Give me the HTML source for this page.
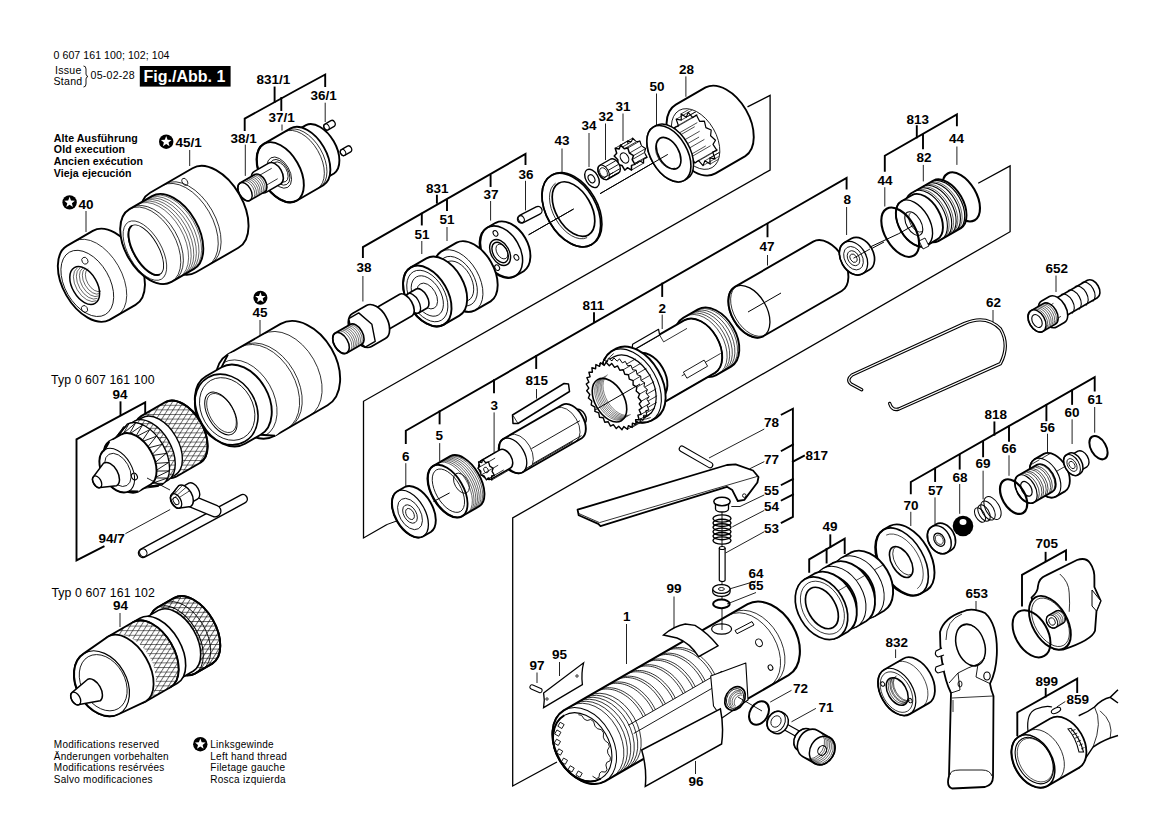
<!DOCTYPE html>
<html><head><meta charset="utf-8"><style>
html,body{margin:0;padding:0;background:#fff;}
svg{display:block;}
.l{font-family:"Liberation Sans",sans-serif;font-weight:bold;font-size:13.5px;fill:#000;}
.r{font-family:"Liberation Sans",sans-serif;font-size:10px;fill:#000;letter-spacing:0.25px;}
.b{font-family:"Liberation Sans",sans-serif;font-weight:bold;font-size:10.6px;fill:#000;letter-spacing:0.1px;}
</style></head><body>
<svg width="1168" height="826" viewBox="0 0 1168 826">
<rect width="1168" height="826" fill="#fff"/>

<path d="M244.7,130.0 L244.7,118.6 L296.6,90.0 L325.2,74.5 L325.2,86.0" fill="none" stroke="#000" stroke-width="1.9" stroke-linejoin="miter" stroke-linecap="square"/>
<path d="M274.6,101.8 L274.6,87.5" fill="none" stroke="#000" stroke-width="1.9" stroke-linejoin="miter" stroke-linecap="square"/>
<path d="M281.3,98.0 L281.3,110.0" fill="none" stroke="#000" stroke-width="1.9" stroke-linejoin="miter" stroke-linecap="square"/>
<path d="M245.3,144.6 L245.3,175.9" fill="none" stroke="#222" stroke-width="1.0" stroke-linejoin="miter" />
<path d="M282.0,124.5 L282.0,130.6" fill="none" stroke="#222" stroke-width="1.0" stroke-linejoin="miter" />
<path d="M325.2,102.7 L325.2,122.0" fill="none" stroke="#222" stroke-width="1.0" stroke-linejoin="miter" />
<path d="M362.9,257.0 L362.9,247.1 L525.5,153.9 L525.5,164.0" fill="none" stroke="#000" stroke-width="1.9" stroke-linejoin="miter" stroke-linecap="square"/>
<path d="M436.9,202.7 L436.9,195.7" fill="none" stroke="#000" stroke-width="1.9" stroke-linejoin="miter" stroke-linecap="square"/>
<path d="M421.8,213.7 L421.8,224.5" fill="none" stroke="#000" stroke-width="1.9" stroke-linejoin="miter" stroke-linecap="square"/>
<path d="M447.0,200.0 L447.0,210.0" fill="none" stroke="#000" stroke-width="1.9" stroke-linejoin="miter" stroke-linecap="square"/>
<path d="M490.6,175.5 L490.6,186.0" fill="none" stroke="#000" stroke-width="1.9" stroke-linejoin="miter" stroke-linecap="square"/>
<path d="M362.9,276.0 L362.9,301.5" fill="none" stroke="#222" stroke-width="1.0" stroke-linejoin="miter" />
<path d="M421.8,241.0 L421.8,254.0" fill="none" stroke="#222" stroke-width="1.0" stroke-linejoin="miter" />
<path d="M447.0,227.0 L447.0,241.0" fill="none" stroke="#222" stroke-width="1.0" stroke-linejoin="miter" />
<path d="M490.6,201.0 L490.6,220.6" fill="none" stroke="#222" stroke-width="1.0" stroke-linejoin="miter" />
<path d="M525.5,180.8 L525.5,210.4" fill="none" stroke="#222" stroke-width="1.0" stroke-linejoin="miter" />
<path d="M145.2,412.7 L145.2,402.3 L76.5,439.3 L76.5,560.4 L103.6,546.6" fill="none" stroke="#000" stroke-width="1.9" stroke-linejoin="miter" stroke-linecap="square"/>
<path d="M120.5,415.0 L120.5,402.3" fill="none" stroke="#000" stroke-width="1.9" stroke-linejoin="miter" stroke-linecap="square"/>
<path d="M125.4,533.7 L170.2,509.5" fill="none" stroke="#222" stroke-width="1.0" stroke-linejoin="miter" />
<path d="M120.0,613.0 L120.0,627.0" fill="none" stroke="#222" stroke-width="1.0" stroke-linejoin="miter" />
<path d="M747.5,106.8 L770.1,95.3 L770.1,170.0 L363.5,401.3 L363.5,538.0 L387.0,524.5" fill="none" stroke="#000" stroke-width="1.3" stroke-linejoin="miter" />
<path d="M978.2,183.3 L1010.1,165.9 L1010.1,231.7 L512.7,518.0 L512.7,786.0 L557.0,762.0" fill="none" stroke="#000" stroke-width="1.3" stroke-linejoin="miter" />
<path d="M405.8,443.1 L405.8,430.8 L846.6,178.0 L846.6,188.6" fill="none" stroke="#000" stroke-width="1.9" stroke-linejoin="miter" stroke-linecap="square"/>
<path d="M594.0,321.8 L594.0,313.3" fill="none" stroke="#000" stroke-width="1.9" stroke-linejoin="miter" stroke-linecap="square"/>
<path d="M662.2,283.6 L662.2,296.0" fill="none" stroke="#000" stroke-width="1.9" stroke-linejoin="miter" stroke-linecap="square"/>
<path d="M767.5,223.9 L767.5,236.3" fill="none" stroke="#000" stroke-width="1.9" stroke-linejoin="miter" stroke-linecap="square"/>
<path d="M536.2,356.0 L536.2,368.0" fill="none" stroke="#000" stroke-width="1.9" stroke-linejoin="miter" stroke-linecap="square"/>
<path d="M494.0,380.2 L494.0,392.2" fill="none" stroke="#000" stroke-width="1.9" stroke-linejoin="miter" stroke-linecap="square"/>
<path d="M439.6,411.4 L439.6,423.4" fill="none" stroke="#000" stroke-width="1.9" stroke-linejoin="miter" stroke-linecap="square"/>
<path d="M846.6,207.0 L846.6,235.0" fill="none" stroke="#222" stroke-width="1.0" stroke-linejoin="miter" />
<path d="M662.2,314.6 L662.2,329.0" fill="none" stroke="#222" stroke-width="1.0" stroke-linejoin="miter" />
<path d="M767.5,255.0 L767.5,265.5" fill="none" stroke="#222" stroke-width="1.0" stroke-linejoin="miter" />
<path d="M536.5,389.0 L536.5,398.6" fill="none" stroke="#222" stroke-width="1.0" stroke-linejoin="miter" />
<path d="M494.1,412.4 L494.1,452.6" fill="none" stroke="#222" stroke-width="1.0" stroke-linejoin="miter" />
<path d="M439.7,443.1 L439.7,461.1" fill="none" stroke="#222" stroke-width="1.0" stroke-linejoin="miter" />
<path d="M405.8,463.2 L405.8,488.7" fill="none" stroke="#222" stroke-width="1.0" stroke-linejoin="miter" />
<path d="M781.7,414.5 L792.9,408.7 L792.9,516.8 L781.7,522.6" fill="none" stroke="#000" stroke-width="1.9" stroke-linejoin="miter" stroke-linecap="square"/>
<path d="M781.7,450.8 L792.9,444.6" fill="none" stroke="#000" stroke-width="1.9" stroke-linejoin="miter" stroke-linecap="square"/>
<path d="M792.9,461.6 L804.0,455.8" fill="none" stroke="#000" stroke-width="1.9" stroke-linejoin="miter" stroke-linecap="square"/>
<path d="M781.7,484.8 L792.9,479.0" fill="none" stroke="#000" stroke-width="1.9" stroke-linejoin="miter" stroke-linecap="square"/>
<path d="M781.7,500.3 L792.9,494.5" fill="none" stroke="#000" stroke-width="1.9" stroke-linejoin="miter" stroke-linecap="square"/>
<path d="M764.3,429.0 L709.0,458.0" fill="none" stroke="#222" stroke-width="1.0" stroke-linejoin="miter" />
<path d="M764.3,461.6 L749.7,468.8" fill="none" stroke="#222" stroke-width="1.0" stroke-linejoin="miter" />
<path d="M764.3,494.9 L740.0,506.5 L731.3,506.5" fill="none" stroke="#222" stroke-width="1.0" stroke-linejoin="miter" />
<path d="M764.3,510.4 L732.3,526.9" fill="none" stroke="#222" stroke-width="1.0" stroke-linejoin="miter" />
<path d="M764.3,531.7 L725.5,553.0" fill="none" stroke="#222" stroke-width="1.0" stroke-linejoin="miter" />
<path d="M910.8,493.3 L910.8,482.0 L1094.7,377.2 L1094.7,390.5" fill="none" stroke="#000" stroke-width="1.9" stroke-linejoin="miter" stroke-linecap="square"/>
<path d="M935.1,468.6 L935.1,481.0" fill="none" stroke="#000" stroke-width="1.9" stroke-linejoin="miter" stroke-linecap="square"/>
<path d="M959.7,454.9 L959.7,468.6" fill="none" stroke="#000" stroke-width="1.9" stroke-linejoin="miter" stroke-linecap="square"/>
<path d="M983.1,441.9 L983.1,456.3" fill="none" stroke="#000" stroke-width="1.9" stroke-linejoin="miter" stroke-linecap="square"/>
<path d="M1009.0,426.5 L1009.0,440.9" fill="none" stroke="#000" stroke-width="1.9" stroke-linejoin="miter" stroke-linecap="square"/>
<path d="M1046.4,404.9 L1046.4,420.3" fill="none" stroke="#000" stroke-width="1.9" stroke-linejoin="miter" stroke-linecap="square"/>
<path d="M1072.1,390.5 L1072.1,403.9" fill="none" stroke="#000" stroke-width="1.9" stroke-linejoin="miter" stroke-linecap="square"/>
<path d="M994.4,434.7 L994.4,422.4" fill="none" stroke="#000" stroke-width="1.9" stroke-linejoin="miter" stroke-linecap="square"/>
<path d="M1094.7,407.0 L1094.7,432.7" fill="none" stroke="#222" stroke-width="1.0" stroke-linejoin="miter" />
<path d="M1072.1,419.3 L1072.1,444.0" fill="none" stroke="#222" stroke-width="1.0" stroke-linejoin="miter" />
<path d="M1047.5,433.7 L1047.5,453.2" fill="none" stroke="#222" stroke-width="1.0" stroke-linejoin="miter" />
<path d="M1009.0,455.3 L1009.0,475.8" fill="none" stroke="#222" stroke-width="1.0" stroke-linejoin="miter" />
<path d="M983.1,470.7 L983.1,499.4" fill="none" stroke="#222" stroke-width="1.0" stroke-linejoin="miter" />
<path d="M959.7,484.0 L959.7,513.8" fill="none" stroke="#222" stroke-width="1.0" stroke-linejoin="miter" />
<path d="M935.0,497.4 L935.0,524.0" fill="none" stroke="#222" stroke-width="1.0" stroke-linejoin="miter" />
<path d="M910.8,511.8 L910.8,526.0" fill="none" stroke="#222" stroke-width="1.0" stroke-linejoin="miter" />
<path d="M884.8,170.7 L884.8,155.8 L956.9,114.5 L956.9,125.2" fill="none" stroke="#000" stroke-width="1.9" stroke-linejoin="miter" stroke-linecap="square"/>
<path d="M916.8,137.4 L916.8,126.2" fill="none" stroke="#000" stroke-width="1.9" stroke-linejoin="miter" stroke-linecap="square"/>
<path d="M923.0,134.9 L923.0,148.4" fill="none" stroke="#000" stroke-width="1.9" stroke-linejoin="miter" stroke-linecap="square"/>
<path d="M956.9,146.5 L956.9,164.9" fill="none" stroke="#222" stroke-width="1.0" stroke-linejoin="miter" />
<path d="M923.3,164.9 L923.3,181.4" fill="none" stroke="#222" stroke-width="1.0" stroke-linejoin="miter" />
<path d="M884.8,187.2 L884.8,206.5" fill="none" stroke="#222" stroke-width="1.0" stroke-linejoin="miter" />
<path d="M809.2,571.8 L809.2,559.4 L844.7,538.7 L844.7,553.1" fill="none" stroke="#000" stroke-width="1.9" stroke-linejoin="miter" stroke-linecap="square"/>
<path d="M826.6,548.9 L826.6,562.5" fill="none" stroke="#000" stroke-width="1.9" stroke-linejoin="miter" stroke-linecap="square"/>
<path d="M830.3,546.9 L830.3,535.3" fill="none" stroke="#000" stroke-width="1.9" stroke-linejoin="miter" stroke-linecap="square"/>
<path d="M1022.0,605.5 L1022.0,574.8 L1066.0,550.4 L1066.0,559.9" fill="none" stroke="#000" stroke-width="1.9" stroke-linejoin="miter" stroke-linecap="square"/>
<path d="M1045.6,560.7 L1045.6,552.8" fill="none" stroke="#000" stroke-width="1.9" stroke-linejoin="miter" stroke-linecap="square"/>
<path d="M1017.3,735.3 L1017.3,712.5 L1077.2,678.7 L1077.2,692.0" fill="none" stroke="#000" stroke-width="1.9" stroke-linejoin="miter" stroke-linecap="square"/>
<path d="M1045.7,696.5 L1045.7,688.9" fill="none" stroke="#000" stroke-width="1.9" stroke-linejoin="miter" stroke-linecap="square"/>
<path d="M1065.3,701.5 L1056.7,707.0" fill="none" stroke="#222" stroke-width="1.0" stroke-linejoin="miter" />
<path d="M685.9,76.4 L685.9,96.8" fill="none" stroke="#222" stroke-width="1.0" stroke-linejoin="miter" />
<path d="M656.5,93.5 L656.5,126.0" fill="none" stroke="#222" stroke-width="1.0" stroke-linejoin="miter" />
<path d="M623.0,113.5 L623.0,141.0" fill="none" stroke="#222" stroke-width="1.0" stroke-linejoin="miter" />
<path d="M605.5,123.5 L605.5,160.0" fill="none" stroke="#222" stroke-width="1.0" stroke-linejoin="miter" />
<path d="M589.0,133.0 L589.0,167.0" fill="none" stroke="#222" stroke-width="1.0" stroke-linejoin="miter" />
<path d="M562.0,148.5 L562.0,172.0" fill="none" stroke="#222" stroke-width="1.0" stroke-linejoin="miter" />
<path d="M993.0,310.0 L993.0,322.0" fill="none" stroke="#222" stroke-width="1.0" stroke-linejoin="miter" />
<path d="M1056.0,275.5 L1056.0,292.0" fill="none" stroke="#222" stroke-width="1.0" stroke-linejoin="miter" />
<path d="M674.0,596.5 L674.0,636.0" fill="none" stroke="#222" stroke-width="1.0" stroke-linejoin="miter" />
<path d="M626.5,624.0 L626.5,664.0" fill="none" stroke="#222" stroke-width="1.0" stroke-linejoin="miter" />
<path d="M559.5,662.0 L559.5,676.0" fill="none" stroke="#222" stroke-width="1.0" stroke-linejoin="miter" />
<path d="M537.0,672.5 L537.0,683.0" fill="none" stroke="#222" stroke-width="1.0" stroke-linejoin="miter" />
<path d="M791.5,690.3 L770.2,702.1" fill="none" stroke="#222" stroke-width="1.0" stroke-linejoin="miter" />
<path d="M815.9,708.4 L791.5,721.8" fill="none" stroke="#222" stroke-width="1.0" stroke-linejoin="miter" />
<path d="M695.5,761.0 L695.5,774.0" fill="none" stroke="#222" stroke-width="1.0" stroke-linejoin="miter" />
<path d="M895.6,649.4 L895.6,658.0" fill="none" stroke="#222" stroke-width="1.0" stroke-linejoin="miter" />
<path d="M976.0,601.0 L976.0,614.0" fill="none" stroke="#222" stroke-width="1.0" stroke-linejoin="miter" />
<path d="M756.0,581.0 L726.0,590.0" fill="none" stroke="#222" stroke-width="1.0" stroke-linejoin="miter" />
<path d="M756.0,592.5 L727.0,604.0" fill="none" stroke="#222" stroke-width="1.0" stroke-linejoin="miter" />
<path d="M86.0,211.0 L86.0,232.0" fill="none" stroke="#222" stroke-width="1.0" stroke-linejoin="miter" />
<path d="M189.7,150.0 L189.7,166.0" fill="none" stroke="#222" stroke-width="1.0" stroke-linejoin="miter" />
<path d="M260.0,320.0 L260.0,340.0" fill="none" stroke="#222" stroke-width="1.0" stroke-linejoin="miter" />
<text class="r" x="53.5" y="58.8" style="font-size:10.6px;letter-spacing:0.05px">0 607 161 100; 102; 104</text>
<text class="r" x="55" y="73.7" style="font-size:10.6px">Issue</text>
<text class="r" x="53.5" y="85.4" style="font-size:10.6px">Stand</text>
<path d="M83.5,66 Q86,66 86,69 L86,74 Q86,76 88,76.5 Q86,77 86,79 L86,84 Q86,87 83.5,87" fill="none" stroke="#000" stroke-width="0.9"/>
<text class="r" x="90.5" y="79.4" style="font-size:10.6px">05-02-28</text>
<rect x="139.8" y="66" width="90.8" height="20.6" fill="#000"/>
<text x="143.5" y="81.6" style="font-family:'Liberation Sans',sans-serif;font-weight:bold;font-size:16px;fill:#fff">Fig./Abb. 1</text>
<text class="b" x="53.8" y="141.7">Alte Ausführung</text>
<text class="b" x="53.8" y="153.3">Old execution</text>
<text class="b" x="53.8" y="164.9">Ancien exécution</text>
<text class="b" x="53.8" y="176.5">Vieja ejecución</text>
<text class="r" x="51" y="384" style="font-size:12.3px;letter-spacing:0.1px">Typ 0 607 161 100</text>
<text class="r" x="51.4" y="597" style="font-size:12.3px;letter-spacing:0.1px">Typ 0 607 161 102</text>
<text class="r" x="53.8" y="747.6">Modifications reserved</text>
<text class="r" x="53.8" y="759.5">Änderungen vorbehalten</text>
<text class="r" x="53.8" y="771.3">Modifications resérvées</text>
<text class="r" x="53.8" y="783.1">Salvo modificaciones</text>
<text class="r" x="210.3" y="747.6">Linksgewinde</text>
<text class="r" x="210.3" y="759.5">Left hand thread</text>
<text class="r" x="210.3" y="771.3">Filetage gauche</text>
<text class="r" x="210.3" y="783.1">Rosca izquierda</text>
<circle cx="200.3" cy="744.2" r="7.2" fill="#000"/><path d="M200.3,738.6 L201.7,742.2 L205.6,742.5 L202.6,745.0 L203.6,748.7 L200.3,746.6 L197.0,748.7 L198.0,745.0 L195.0,742.5 L198.9,742.2Z" fill="#fff"/>
<circle cx="166.2" cy="141.7" r="7.2" fill="#000"/><path d="M166.2,136.1 L167.6,139.7 L171.5,140.0 L168.5,142.5 L169.5,146.2 L166.2,144.1 L162.9,146.2 L163.9,142.5 L160.9,140.0 L164.8,139.7Z" fill="#fff"/>
<circle cx="69.6" cy="202.4" r="7.2" fill="#000"/><path d="M69.6,196.8 L71.0,200.4 L74.9,200.7 L71.9,203.2 L72.9,206.9 L69.6,204.8 L66.3,206.9 L67.3,203.2 L64.3,200.7 L68.2,200.4Z" fill="#fff"/>
<circle cx="260.4" cy="297.8" r="7.0" fill="#000"/><path d="M260.4,292.3 L261.8,295.9 L265.6,296.1 L262.7,298.5 L263.6,302.2 L260.4,300.2 L257.2,302.2 L258.1,298.5 L255.2,296.1 L259.0,295.9Z" fill="#fff"/><defs><pattern id="kn" patternUnits="userSpaceOnUse" width="4.6" height="4.6" patternTransform="rotate(90)"><path d="M0.5,0 L0.5,4.6" stroke="#000" stroke-width="0.6"/></pattern><pattern id="kn2" patternUnits="userSpaceOnUse" width="4.6" height="4.6" patternTransform="rotate(32)"><path d="M0.5,0 L0.5,4.6" stroke="#000" stroke-width="0.6"/></pattern></defs>
<path d="M66.9,245.9 L92.8,230.9 A42.7,25.6 60 0 1 135.5,304.9 L109.5,319.9 A42.7,25.6 60 0 1 66.9,245.9 Z" fill="#fff" stroke="#000" stroke-width="1.9" stroke-linejoin="round"/>
<path d="M74.6,241.4 A42.7,25.6 60 0 1 117.3,315.4" fill="none" stroke="#000" stroke-width="0.8"/>
<ellipse cx="87.3" cy="283.4" rx="36.0" ry="22.3" transform="rotate(60 87.3 283.4)" fill="none" stroke="#000" stroke-width="0.8" />
<ellipse cx="84.7" cy="285.5" rx="20.7" ry="12.4" transform="rotate(60 84.7 285.5)" fill="none" stroke="#000" stroke-width="1.5" />
<path d="M96.4,300.7 A19.0,11.4 60 0 1 77.4,267.8" fill="none" stroke="#000" stroke-width="0.6"/>
<path d="M97.5,298.3 A17.5,10.5 60 0 1 80.0,268.0" fill="none" stroke="#000" stroke-width="0.6"/>
<path d="M98.7,295.9 A16.0,9.6 60 0 1 82.7,268.2" fill="none" stroke="#000" stroke-width="0.6"/>
<path d="M99.8,293.5 A14.5,8.7 60 0 1 85.3,268.4" fill="none" stroke="#000" stroke-width="0.6"/>
<path d="M101.0,291.1 A13.0,7.8 60 0 1 88.0,268.6" fill="none" stroke="#000" stroke-width="0.6"/>
<ellipse cx="84.9" cy="260.7" rx="3.6" ry="2.9" transform="rotate(60 84.9 260.7)" fill="none" stroke="#000" stroke-width="0.8" />
<ellipse cx="84.5" cy="309.0" rx="3.6" ry="2.9" transform="rotate(60 84.5 309.0)" fill="none" stroke="#000" stroke-width="0.8" />
<path d="M150.1,192.7 L192.5,168.2 A45.9,27.5 60 0 1 238.4,247.8 L195.9,272.3 A45.9,27.5 60 0 1 150.1,192.7 Z" fill="#fff" stroke="#000" stroke-width="1.9" stroke-linejoin="round"/>
<path d="M162.2,185.7 A45.9,27.5 60 0 1 208.1,265.3" fill="none" stroke="#000" stroke-width="0.8"/>
<path d="M165.2,184.0 A45.9,27.5 60 0 1 211.1,263.5" fill="none" stroke="#000" stroke-width="0.8"/>
<ellipse cx="184.8" cy="181.8" rx="3.8" ry="2.5" transform="rotate(60 184.8 181.8)" fill="none" stroke="#000" stroke-width="0.8" />
<path d="M129.5,209.1 L152.0,196.1 A42.0,25.2 60 0 1 194.0,268.9 L171.5,281.9 A42.0,25.2 60 0 1 129.5,209.1 Z" fill="#fff" stroke="#000" stroke-width="1.9" stroke-linejoin="round"/>
<ellipse cx="150.5" cy="245.5" rx="42.0" ry="25.2" transform="rotate(60 150.5 245.5)" fill="none" stroke="#000" stroke-width="0.7" />
<path d="M132.1,207.6 A42.0,25.2 60 0 1 174.1,280.4" fill="none" stroke="#000" stroke-width="0.8"/>
<path d="M137.3,204.6 A42.0,25.2 60 0 1 179.3,277.4" fill="none" stroke="#000" stroke-width="0.6"/>
<path d="M139.9,203.1 A42.0,25.2 60 0 1 181.9,275.9" fill="none" stroke="#000" stroke-width="0.6"/>
<path d="M142.5,201.6 A42.0,25.2 60 0 1 184.5,274.4" fill="none" stroke="#000" stroke-width="0.6"/>
<path d="M145.1,200.1 A42.0,25.2 60 0 1 187.1,272.9" fill="none" stroke="#000" stroke-width="0.6"/>
<path d="M147.7,198.6 A42.0,25.2 60 0 1 189.7,271.4" fill="none" stroke="#000" stroke-width="0.6"/>
<path d="M150.3,197.1 A42.0,25.2 60 0 1 192.3,269.9" fill="none" stroke="#000" stroke-width="0.6"/>
<ellipse cx="145.8" cy="250.1" rx="28.1" ry="12.6" transform="rotate(60 145.8 250.1)" fill="none" stroke="#000" stroke-width="0.9" />
<path d="M159.9,274.4 A28.1,12.6 60 0 1 131.8,225.8" fill="none" stroke="#000" stroke-width="1.8"/>
<ellipse cx="144.9" cy="250.6" rx="33.0" ry="16.5" transform="rotate(60 144.9 250.6)" fill="none" stroke="#000" stroke-width="0.7" />
<path d="M293.0,132.6 L306.0,125.1 A28.0,16.8 60 0 1 334.0,173.5 L321.0,181.0 A28.0,16.8 60 0 1 293.0,132.6 Z" fill="#fff" stroke="#000" stroke-width="1.9" stroke-linejoin="round"/>
<path d="M324.9,124.1 L330.9,120.6 A3.3,2.5 60 0 1 334.2,126.4 L328.1,129.9 A3.3,2.5 60 0 1 324.9,124.1 Z" fill="#fff" stroke="#000" stroke-width="1.3" stroke-linejoin="round"/><ellipse cx="326.5" cy="127.0" rx="3.3" ry="2.5" transform="rotate(60 326.5 127.0)" fill="none" stroke="#000" stroke-width="1" />
<path d="M341.4,149.6 L347.4,146.1 A3.3,2.5 60 0 1 350.7,151.9 L344.6,155.4 A3.3,2.5 60 0 1 341.4,149.6 Z" fill="#fff" stroke="#000" stroke-width="1.3" stroke-linejoin="round"/><ellipse cx="343.0" cy="152.5" rx="3.3" ry="2.5" transform="rotate(60 343.0 152.5)" fill="none" stroke="#000" stroke-width="1" />
<path d="M263.8,143.9 L290.6,128.4 A32.8,19.7 60 0 1 323.4,185.2 L296.6,200.7 A32.8,19.7 60 0 1 263.8,143.9 Z" fill="#fff" stroke="#000" stroke-width="1.9" stroke-linejoin="round"/>
<ellipse cx="280.2" cy="172.3" rx="32.8" ry="19.7" transform="rotate(60 280.2 172.3)" fill="none" stroke="#000" stroke-width="1.9" />
<path d="M284.6,131.9 A32.8,19.7 60 0 1 317.4,188.7" fill="none" stroke="#000" stroke-width="0.8"/>
<path d="M287.2,130.4 A32.8,19.7 60 0 1 320.0,187.2" fill="none" stroke="#000" stroke-width="0.8"/>
<ellipse cx="279.3" cy="172.6" rx="17.0" ry="10.2" transform="rotate(60 279.3 172.6)" fill="none" stroke="#000" stroke-width="0.8" />
<ellipse cx="279.8" cy="172.3" rx="14.0" ry="8.4" transform="rotate(60 279.8 172.3)" fill="none" stroke="#000" stroke-width="0.8" />
<ellipse cx="280.2" cy="172.0" rx="11.0" ry="6.6" transform="rotate(60 280.2 172.0)" fill="none" stroke="#000" stroke-width="0.8" />
<path d="M254.0,171.6 L268.7,163.1 A12.0,7.2 60 0 1 280.7,183.9 L266.0,192.4 A12.0,7.2 60 0 1 254.0,171.6 Z" fill="#fff" stroke="#000" stroke-width="1.6" stroke-linejoin="round"/>
<path d="M257.0,176.8 L271.7,168.3" fill="none" stroke="#000" stroke-width="0.8" stroke-linejoin="miter" />
<path d="M263.0,187.2 L277.7,178.7" fill="none" stroke="#000" stroke-width="0.8" stroke-linejoin="miter" />
<path d="M240.0,183.0 L254.7,174.5 A10.0,6.0 60 0 1 264.7,191.9 L250.0,200.4 A10.0,6.0 60 0 1 240.0,183.0 Z" fill="#fff" stroke="#000" stroke-width="1.6" stroke-linejoin="round"/><ellipse cx="245.0" cy="191.7" rx="10.0" ry="6.0" transform="rotate(60 245.0 191.7)" fill="none" stroke="#000" stroke-width="1.4" />
<path d="M242.6,181.5 A10.0,6.0 60 0 1 252.6,198.9" fill="none" stroke="#000" stroke-width="0.6"/>
<path d="M244.3,180.5 A10.0,6.0 60 0 1 254.3,197.9" fill="none" stroke="#000" stroke-width="0.6"/>
<path d="M246.1,179.5 A10.0,6.0 60 0 1 256.1,196.9" fill="none" stroke="#000" stroke-width="0.6"/>
<path d="M247.8,178.5 A10.0,6.0 60 0 1 257.8,195.9" fill="none" stroke="#000" stroke-width="0.6"/>
<path d="M249.5,177.5 A10.0,6.0 60 0 1 259.5,194.9" fill="none" stroke="#000" stroke-width="0.6"/>
<path d="M251.3,176.5 A10.0,6.0 60 0 1 261.3,193.9" fill="none" stroke="#000" stroke-width="0.6"/>
<path d="M253.0,175.5 A10.0,6.0 60 0 1 263.0,192.9" fill="none" stroke="#000" stroke-width="0.6"/>
<path d="M228.0,354.3 L280.6,323.9 A47.0,32.0 60 0 1 327.6,405.3 L275.0,435.7 A47.0,32.0 60 0 1 228.0,354.3 Z" fill="#fff" stroke="#000" stroke-width="1.9" stroke-linejoin="round"/>
<path d="M240.1,347.3 A47.0,32.0 60 0 1 287.1,428.7" fill="none" stroke="#000" stroke-width="0.8"/>
<path d="M242.7,345.8 A47.0,32.0 60 0 1 289.7,427.2" fill="none" stroke="#000" stroke-width="0.8"/>
<path d="M262.6,334.3 A47.0,32.0 60 0 1 309.6,415.7" fill="none" stroke="#000" stroke-width="0.8"/>
<path d="M221.6,367.2 L228.0,354.3 A47.0,32.0 60 0 1 275.0,435.7 L260.6,434.8 A39.0,26.5 60 0 1 221.6,367.2 Z" fill="#fff" stroke="none"/><path d="M221.6,367.2 L228.0,354.3 M260.6,434.8 L275.0,435.7" fill="none" stroke="#000" stroke-width="1.9"/>
<path d="M223.6,362.6 A42.0,28.6 60 0 1 265.6,435.4" fill="none" stroke="#000" stroke-width="0.8"/>
<path d="M206.0,376.2 L221.6,367.2 A39.0,27.3 60 0 1 260.6,434.8 L245.0,443.8 A39.0,27.3 60 0 1 206.0,376.2 Z" fill="#fff" stroke="#000" stroke-width="1.9" stroke-linejoin="round"/>
<ellipse cx="226.4" cy="409.5" rx="37.0" ry="29.6" transform="rotate(60 226.4 409.5)" fill="none" stroke="#000" stroke-width="1.6" />
<ellipse cx="227.2" cy="409.0" rx="33.0" ry="25.7" transform="rotate(60 227.2 409.0)" fill="none" stroke="#000" stroke-width="0.8" />
<ellipse cx="220.9" cy="413.5" rx="23.5" ry="12.9" transform="rotate(60 220.9 413.5)" fill="none" stroke="#000" stroke-width="1.0" />
<ellipse cx="221.5" cy="413.0" rx="21.5" ry="11.8" transform="rotate(60 221.5 413.0)" fill="none" stroke="#000" stroke-width="0.7" />
<path d="M141.1,416.1 L165.3,402.1 A35.0,21.0 60 0 1 200.3,462.7 L176.1,476.7 A35.0,21.0 60 0 1 141.1,416.1 Z" fill="#fff" stroke="none"/><path d="M141.1,416.1 L165.3,402.1 A35.0,21.0 60 0 1 200.3,462.7 L176.1,476.7 A35.0,21.0 60 0 1 141.1,416.1 Z" fill="url(#kn)" stroke="none" opacity="0.9"/><path d="M141.1,416.1 L165.3,402.1 A35.0,21.0 60 0 1 200.3,462.7 L176.1,476.7 A35.0,21.0 60 0 1 141.1,416.1 Z" fill="url(#kn2)" stroke="none" opacity="0.9"/><path d="M141.1,416.1 L165.3,402.1 A35.0,21.0 60 0 1 200.3,462.7 L176.1,476.7 A35.0,21.0 60 0 1 141.1,416.1 Z" fill="none" stroke="#000" stroke-width="1.9"/>
<path d="M165.3,402.1 A35.0,21.0 60 0 1 200.3,462.7" fill="none" stroke="#000" stroke-width="1.9"/>
<path d="M135.1,421.8 L142.1,417.8 A33.0,19.8 60 0 1 175.1,475.0 L168.1,479.0 A33.0,19.8 60 0 1 135.1,421.8 Z" fill="#fff" stroke="#000" stroke-width="1.4" stroke-linejoin="round"/>
<path d="M126.0,426.0 L134.6,421.0 A34.0,20.4 60 0 1 168.6,479.8 L160.0,484.8 A34.0,20.4 60 0 1 126.0,426.0 Z" fill="#fff" stroke="none"/><path d="M126.0,426.0 L134.6,421.0 A34.0,20.4 60 0 1 168.6,479.8 L160.0,484.8 A34.0,20.4 60 0 1 126.0,426.0 Z" fill="url(#kn)" stroke="none" opacity="0.9"/><path d="M126.0,426.0 L134.6,421.0 A34.0,20.4 60 0 1 168.6,479.8 L160.0,484.8 A34.0,20.4 60 0 1 126.0,426.0 Z" fill="url(#kn2)" stroke="none" opacity="0.9"/><path d="M126.0,426.0 L134.6,421.0 A34.0,20.4 60 0 1 168.6,479.8 L160.0,484.8 A34.0,20.4 60 0 1 126.0,426.0 Z" fill="none" stroke="#000" stroke-width="1.4"/>
<path d="M118.1,436.3 L127.2,424.1 A35.0,21.0 60 0 1 162.2,484.7 L147.1,486.5 A29.0,17.4 60 0 1 118.1,436.3 Z" fill="#fff" stroke="#000" stroke-width="1.3" stroke-linejoin="round"/>
<path d="M148.5,486.9 L163.8,483.4 L152.2,483.3" fill="none" stroke="#000" stroke-width="0.9" stroke-linejoin="miter" /><path d="M152.2,483.3 L167.3,478.1 L154.5,477.9" fill="none" stroke="#000" stroke-width="0.9" stroke-linejoin="miter" /><path d="M154.5,477.9 L169.0,470.9 L155.1,471.1" fill="none" stroke="#000" stroke-width="0.9" stroke-linejoin="miter" /><path d="M155.1,471.1 L168.6,462.5 L153.9,463.5" fill="none" stroke="#000" stroke-width="0.9" stroke-linejoin="miter" /><path d="M153.9,463.5 L166.2,453.4 L151.0,455.7" fill="none" stroke="#000" stroke-width="0.9" stroke-linejoin="miter" /><path d="M151.0,455.7 L162.0,444.4 L146.7,448.3" fill="none" stroke="#000" stroke-width="0.9" stroke-linejoin="miter" /><path d="M146.7,448.3 L156.4,436.3 L141.4,441.9" fill="none" stroke="#000" stroke-width="0.9" stroke-linejoin="miter" /><path d="M141.4,441.9 L149.7,429.7 L135.4,437.1" fill="none" stroke="#000" stroke-width="0.9" stroke-linejoin="miter" /><path d="M135.4,437.1 L142.5,425.1 L129.3,434.2" fill="none" stroke="#000" stroke-width="0.9" stroke-linejoin="miter" /><path d="M129.3,434.2 L135.5,423.0 L123.5,433.4" fill="none" stroke="#000" stroke-width="0.9" stroke-linejoin="miter" /><path d="M123.5,433.4 L129.1,423.4 L118.5,434.9" fill="none" stroke="#000" stroke-width="0.9" stroke-linejoin="miter" /><path d="M118.5,434.9 L123.9,426.4 L114.7,438.5" fill="none" stroke="#000" stroke-width="0.9" stroke-linejoin="miter" /><path d="M114.7,438.5 L120.4,431.7 L112.4,443.9" fill="none" stroke="#000" stroke-width="0.9" stroke-linejoin="miter" /><path d="M143.5,488.4 L158.6,486.4 L148.5,486.9" fill="none" stroke="#000" stroke-width="0.9" stroke-linejoin="miter" />
<path d="M109.4,441.3 L121.6,434.3 A29.0,17.4 60 0 1 150.6,484.5 L138.4,491.5 A29.0,17.4 60 0 1 109.4,441.3 Z" fill="#fff" stroke="#000" stroke-width="1.9" stroke-linejoin="round"/>
<path d="M105.0,449.6 L109.4,441.3 A29.0,18.0 60 0 1 138.4,491.5 L129.0,491.2 A24.0,14.9 60 0 1 105.0,449.6 Z" fill="#fff" stroke="none"/><path d="M105.0,449.6 L109.4,441.3 M129.0,491.2 L138.4,491.5" fill="none" stroke="#000" stroke-width="1.9"/>
<path d="M129.0,491.2 A24.0,14.9 60 0 1 105.0,449.6" fill="none" stroke="#000" stroke-width="1.9"/>
<ellipse cx="117.0" cy="470.4" rx="24.0" ry="14.9" transform="rotate(60 117.0 470.4)" fill="none" stroke="#000" stroke-width="1.0" />
<ellipse cx="117.9" cy="469.9" rx="18.0" ry="11.2" transform="rotate(60 117.9 469.9)" fill="none" stroke="#000" stroke-width="0.8" />
<ellipse cx="134.4" cy="476.5" rx="3.5" ry="2.8" transform="rotate(60 134.4 476.5)" fill="none" stroke="#000" stroke-width="1.1" />
<path d="M93.8,476.3 L103.6,463.1 A13.0,7.8 60 0 1 116.6,485.7 L100.3,487.5 A6.5,3.9 60 0 1 93.8,476.3 Z" fill="#fff" stroke="#000" stroke-width="1.5" stroke-linejoin="round"/>
<ellipse cx="97.1" cy="481.9" rx="6.5" ry="3.9" transform="rotate(60 97.1 481.9)" fill="none" stroke="#000" stroke-width="1.3" />
<path d="M147.0,478.0 L170.0,490.0" fill="none" stroke="#000" stroke-width="0.9" stroke-linejoin="miter" />
<path d="M143.0,553.0 L242.8,499.0" stroke="#000" stroke-width="10.4" stroke-linecap="round"/><path d="M143.0,553.0 L242.8,499.0" stroke="#fff" stroke-width="7.6" stroke-linecap="round"/>
<ellipse cx="143.3" cy="552.8" rx="4.0" ry="3.6" transform="rotate(60 143.3 552.8)" fill="none" stroke="#000" stroke-width="1.1" />
<path d="M186.0,499.0 L215.0,511.0" stroke="#000" stroke-width="13.0" stroke-linecap="round"/><path d="M186.0,499.0 L215.0,511.0" stroke="#fff" stroke-width="10.4" stroke-linecap="round"/>
<path d="M178.4,489.2 L188.8,483.2 A9.0,5.4 60 0 1 197.8,498.8 L187.4,504.8 A9.0,5.4 60 0 1 178.4,489.2 Z" fill="#fff" stroke="#000" stroke-width="1.4" stroke-linejoin="round"/>
<path d="M172.0,494.1 L178.7,485.6 A12.0,7.2 60 0 1 190.7,506.4 L180.0,507.9 A8.0,4.8 60 0 1 172.0,494.1 Z" fill="#fff" stroke="#000" stroke-width="1.5" stroke-linejoin="round"/>
<path d="M179.4,497.4 L189.8,490.7" fill="none" stroke="#000" stroke-width="0.7" stroke-linejoin="miter" />
<path d="M177.1,495.1 L186.3,487.1" fill="none" stroke="#000" stroke-width="0.7" stroke-linejoin="miter" />
<path d="M174.6,493.8 L182.6,485.2" fill="none" stroke="#000" stroke-width="0.7" stroke-linejoin="miter" />
<path d="M172.4,493.9 L179.2,485.3" fill="none" stroke="#000" stroke-width="0.7" stroke-linejoin="miter" />
<path d="M170.8,495.3 L176.9,487.5" fill="none" stroke="#000" stroke-width="0.7" stroke-linejoin="miter" />
<path d="M170.2,497.8 L176.0,491.2" fill="none" stroke="#000" stroke-width="0.7" stroke-linejoin="miter" />
<path d="M170.7,500.9 L176.7,495.8" fill="none" stroke="#000" stroke-width="0.7" stroke-linejoin="miter" />
<ellipse cx="176.0" cy="501.0" rx="8.0" ry="4.8" transform="rotate(60 176.0 501.0)" fill="none" stroke="#000" stroke-width="1.3" />
<ellipse cx="176.0" cy="501.0" rx="4.0" ry="2.4" transform="rotate(60 176.0 501.0)" fill="none" stroke="#000" stroke-width="0.9" />
<path d="M156.9,607.8 L174.3,597.8 A38.0,22.8 60 0 1 212.3,663.6 L194.9,673.6 A38.0,22.8 60 0 1 156.9,607.8 Z" fill="#fff" stroke="#000" stroke-width="1.9" stroke-linejoin="round"/><ellipse cx="175.9" cy="640.7" rx="38.0" ry="22.8" transform="rotate(60 175.9 640.7)" fill="none" stroke="#000" stroke-width="1" />
<path d="M164.7,603.3 L174.3,597.8 A38.0,22.8 60 0 1 212.3,663.6 L202.7,669.1 A38.0,22.8 60 0 1 164.7,603.3 Z" fill="url(#kn)" stroke="none"/><path d="M164.7,603.3 L174.3,597.8 A38.0,22.8 60 0 1 212.3,663.6 L202.7,669.1 A38.0,22.8 60 0 1 164.7,603.3 Z" fill="url(#kn2)" stroke="none"/>
<path d="M164.7,603.3 A38.0,22.8 60 0 1 202.7,669.1" fill="none" stroke="#000" stroke-width="0.9"/>
<path d="M156.9,607.8 L174.3,597.8 A38.0,22.8 60 0 1 212.3,663.6 L194.9,673.6 A38.0,22.8 60 0 1 156.9,607.8 Z" fill="none" stroke="#000" stroke-width="1.9" stroke-linejoin="round"/>
<path d="M141.1,620.4 L158.4,610.4 A35.0,21.0 60 0 1 193.4,671.0 L176.1,681.0 A35.0,21.0 60 0 1 141.1,620.4 Z" fill="#fff" stroke="#000" stroke-width="1.6" stroke-linejoin="round"/>
<path d="M132.9,622.2 L139.9,618.2 A37.5,22.5 60 0 1 177.4,683.2 L170.4,687.2 A37.5,22.5 60 0 1 132.9,622.2 Z" fill="#fff" stroke="#000" stroke-width="1.6" stroke-linejoin="round"/>
<path d="M107.8,636.7 L132.9,622.2 A37.5,22.5 60 0 1 170.4,687.2 L145.3,701.7 A37.5,22.5 60 0 1 107.8,636.7 Z" fill="#fff" stroke="none"/><path d="M107.8,636.7 L132.9,622.2 A37.5,22.5 60 0 1 170.4,687.2 L145.3,701.7 A37.5,22.5 60 0 1 107.8,636.7 Z" fill="url(#kn)" stroke="none" opacity="0.9"/><path d="M107.8,636.7 L132.9,622.2 A37.5,22.5 60 0 1 170.4,687.2 L145.3,701.7 A37.5,22.5 60 0 1 107.8,636.7 Z" fill="url(#kn2)" stroke="none" opacity="0.9"/><path d="M107.8,636.7 L132.9,622.2 A37.5,22.5 60 0 1 170.4,687.2 L145.3,701.7 A37.5,22.5 60 0 1 107.8,636.7 Z" fill="none" stroke="#000" stroke-width="1.9"/>
<path d="M132.9,622.2 A37.5,22.5 60 0 1 170.4,687.2" fill="none" stroke="#000" stroke-width="1.4"/>
<path d="M84.0,653.4 L107.8,636.7 A37.5,26.2 60 0 1 145.3,701.7 L119.0,714.0 A35.0,24.5 60 0 1 84.0,653.4 Z" fill="#fff" stroke="none"/><path d="M84.0,653.4 L107.8,636.7 M119.0,714.0 L145.3,701.7" fill="none" stroke="#000" stroke-width="1.9"/>
<path d="M119.0,714.0 A35.0,25.2 60 0 1 84.0,653.4" fill="none" stroke="#000" stroke-width="1.9"/>
<path d="M107.8,636.7 A37.5,22.5 60 0 1 145.3,701.7" fill="none" stroke="#000" stroke-width="1.8"/>
<ellipse cx="101.5" cy="683.7" rx="35.0" ry="25.2" transform="rotate(60 101.5 683.7)" fill="none" stroke="#000" stroke-width="1.2" />
<ellipse cx="103.2" cy="682.7" rx="30.0" ry="21.6" transform="rotate(60 103.2 682.7)" fill="none" stroke="#000" stroke-width="0.8" />
<path d="M72.2,692.4 L87.8,679.2 A12.5,7.5 60 0 1 100.2,700.8 L79.2,704.6 A7.0,4.2 60 0 1 72.2,692.4 Z" fill="#fff" stroke="#000" stroke-width="1.5" stroke-linejoin="round"/>
<ellipse cx="75.7" cy="698.5" rx="7.0" ry="4.2" transform="rotate(60 75.7 698.5)" fill="none" stroke="#000" stroke-width="1.3" /><path d="M682.0,448.8 L710.0,465.0" stroke="#000" stroke-width="6.6" stroke-linecap="round"/><path d="M682.0,448.8 L710.0,465.0" stroke="#fff" stroke-width="4.4" stroke-linecap="round"/>
<path d="M577.6,509.7 L726.9,465.0 L735.6,464.4 L753.0,470.5 L758.5,477.0 L757.4,482.5 L744.3,499.9 L737.8,501.0 L732.3,490.1 L726.9,486.8 L600.5,526.1 L598.3,523.9 L578.7,515.2Z" fill="#fff" stroke="#000" stroke-width="1.8" stroke-linejoin="round"/>
<path d="M599.5,522.6 L757.0,476.5" fill="none" stroke="#000" stroke-width="0.8" stroke-linejoin="miter" />
<path d="M578.7,513.5 L599.5,522.6" fill="none" stroke="#000" stroke-width="0.8" stroke-linejoin="miter" />
<circle cx="744.3" cy="495.6" r="1.8" fill="none" stroke="#000" stroke-width="0.9"/>
<path d="M722.0,508.0 L722.0,600.0" fill="none" stroke="#000" stroke-width="0.9" stroke-linejoin="miter" />
<path d="M715.5,502 L715.5,509 A6.5,3 0 0 0 728.5,509 L728.5,502" fill="#fff" stroke="#000" stroke-width="1.3"/>
<ellipse cx="722" cy="501.5" rx="8.2" ry="4.2" fill="#fff" stroke="#000" stroke-width="1.5"/>
<ellipse cx="722" cy="518.5" rx="9" ry="3.6" fill="none" stroke="#000" stroke-width="1.4"/>
<ellipse cx="722" cy="522.9" rx="9" ry="3.6" fill="none" stroke="#000" stroke-width="1.4"/>
<ellipse cx="722" cy="527.3" rx="9" ry="3.6" fill="none" stroke="#000" stroke-width="1.4"/>
<ellipse cx="722" cy="531.7" rx="9" ry="3.6" fill="none" stroke="#000" stroke-width="1.4"/>
<ellipse cx="722" cy="536.1" rx="9" ry="3.6" fill="none" stroke="#000" stroke-width="1.4"/>
<ellipse cx="722" cy="540.5" rx="9" ry="3.6" fill="none" stroke="#000" stroke-width="1.4"/>
<path d="M719.3,548 L719.3,580 A2.9,1.5 0 0 0 725.1,580 L725.1,548" fill="#fff" stroke="#000" stroke-width="1.2"/>
<ellipse cx="722.2" cy="548" rx="2.9" ry="1.5" fill="#fff" stroke="#000" stroke-width="1.1"/>
<path d="M712.7,589 L712.7,592 A8.7,4.4 0 0 0 730.1,592 L730.1,589" fill="#fff" stroke="#000" stroke-width="1.2"/>
<ellipse cx="721.4" cy="589" rx="8.7" ry="4.4" fill="#fff" stroke="#000" stroke-width="1.3"/>
<ellipse cx="721.4" cy="589" rx="3" ry="1.5" fill="#fff" stroke="#000" stroke-width="0.9"/>
<ellipse cx="721.4" cy="603.9" rx="8.3" ry="4.3" fill="none" stroke="#000" stroke-width="2"/>
<path d="M563.8,710.3 L747.6,604.2 A41.0,28.7 60 0 1 788.6,675.2 L604.8,781.3 A41.0,28.7 60 0 1 563.8,710.3 Z" fill="#fff" stroke="#000" stroke-width="2.1" stroke-linejoin="round"/>
<ellipse cx="584.3" cy="745.8" rx="41.0" ry="28.7" transform="rotate(60 584.3 745.8)" fill="none" stroke="#000" stroke-width="1.0" />
<ellipse cx="582.5" cy="747.0" rx="36.5" ry="26.6" transform="rotate(60 582.5 747.0)" fill="none" stroke="#000" stroke-width="1.1" />
<path d="M600.8,778.6 A36.5,26.6 60 0 1 564.2,715.4" fill="none" stroke="#000" stroke-width="1.8"/>
<path d="M571.6,705.8 A41.0,28.7 60 0 1 612.6,776.8" fill="none" stroke="#000" stroke-width="0.8"/>
<path d="M575.1,703.8 A41.0,28.7 60 0 1 616.1,774.8" fill="none" stroke="#000" stroke-width="0.8"/>
<path d="M578.5,701.8 A41.0,28.7 60 0 1 619.5,772.8" fill="none" stroke="#000" stroke-width="0.8"/>
<path d="M582.0,699.8 A41.0,28.7 60 0 1 623.0,770.8" fill="none" stroke="#000" stroke-width="0.8"/>
<path d="M585.5,697.8 A41.0,28.7 60 0 1 626.5,768.8" fill="none" stroke="#000" stroke-width="0.8"/>
<path d="M588.9,695.8 A41.0,28.7 60 0 1 629.9,766.8" fill="none" stroke="#000" stroke-width="0.8"/>
<path d="M595.8,691.8 L597.3,691.0 L598.8,690.4 L600.4,689.9 L602.1,689.5 L603.8,689.2 L605.5,689.0 L607.3,689.0 L609.1,689.1 L610.9,689.4 L612.7,689.7 L614.6,690.2 L616.5,690.8 L618.3,691.6 L620.2,692.4 L622.0,693.4 L623.8,694.5 L625.6,695.7 L627.4,696.9 L629.1,698.3 L630.8,699.8 L632.5,701.4 L634.0,703.1 L635.6,704.9 L637.0,706.7 L638.4,708.6 L639.7,710.5 L641.0,712.6 L642.1,714.6 L643.2,716.7" fill="none" stroke="#000" stroke-width="0.8" stroke-linejoin="miter" />
<path d="M598.1,690.5 L599.6,689.7 L601.1,689.1 L602.7,688.6 L604.3,688.2 L606.0,687.9 L607.8,687.7 L609.5,687.7 L611.3,687.8 L613.2,688.1 L615.0,688.4 L616.9,688.9 L618.7,689.5 L620.6,690.3 L622.4,691.1 L624.3,692.1 L626.1,693.2 L627.9,694.4 L629.7,695.6 L631.4,697.0 L633.1,698.5 L634.7,700.1 L636.3,701.8 L637.8,703.6 L639.3,705.4 L640.7,707.3 L642.0,709.2 L643.2,711.3 L644.4,713.3 L645.5,715.4" fill="none" stroke="#000" stroke-width="0.8" stroke-linejoin="miter" />
<path d="M605.8,686.0 L607.3,685.3 L608.8,684.6 L610.4,684.1 L612.0,683.7 L613.7,683.4 L615.5,683.3 L617.2,683.3 L619.0,683.4 L620.9,683.6 L622.7,684.0 L624.6,684.5 L626.4,685.1 L628.3,685.8 L630.1,686.7 L632.0,687.6 L633.8,688.7 L635.6,689.9 L637.4,691.2 L639.1,692.6 L640.8,694.1 L642.4,695.7 L644.0,697.4 L645.5,699.1 L647.0,700.9 L648.4,702.8 L649.7,704.8 L650.9,706.8 L652.1,708.9 L653.2,711.0" fill="none" stroke="#000" stroke-width="0.8" stroke-linejoin="miter" />
<path d="M608.1,684.7 L609.5,684.0 L611.1,683.3 L612.6,682.8 L614.3,682.4 L616.0,682.1 L617.7,682.0 L619.5,682.0 L621.3,682.1 L623.1,682.3 L625.0,682.7 L626.8,683.2 L628.7,683.8 L630.5,684.5 L632.4,685.4 L634.2,686.3 L636.0,687.4 L637.8,688.6 L639.6,689.9 L641.3,691.3 L643.0,692.8 L644.7,694.4 L646.2,696.1 L647.8,697.8 L649.2,699.6 L650.6,701.5 L651.9,703.5 L653.2,705.5 L654.3,707.6 L655.4,709.7" fill="none" stroke="#000" stroke-width="0.8" stroke-linejoin="miter" />
<path d="M615.8,680.3 L617.2,679.5 L618.8,678.9 L620.4,678.4 L622.0,678.0 L623.7,677.7 L625.4,677.5 L627.2,677.5 L629.0,677.6 L630.8,677.9 L632.7,678.2 L634.5,678.7 L636.4,679.3 L638.2,680.1 L640.1,680.9 L641.9,681.9 L643.8,683.0 L645.6,684.2 L647.3,685.4 L649.0,686.8 L650.7,688.3 L652.4,689.9 L654.0,691.6 L655.5,693.4 L656.9,695.2 L658.3,697.1 L659.7,699.0 L660.9,701.1 L662.1,703.1 L663.1,705.2" fill="none" stroke="#000" stroke-width="0.8" stroke-linejoin="miter" />
<path d="M618.0,679.0 L619.5,678.2 L621.0,677.6 L622.6,677.1 L624.3,676.7 L625.9,676.4 L627.7,676.2 L629.4,676.2 L631.2,676.3 L633.1,676.6 L634.9,676.9 L636.8,677.4 L638.6,678.0 L640.5,678.8 L642.3,679.6 L644.2,680.6 L646.0,681.7 L647.8,682.9 L649.6,684.1 L651.3,685.5 L653.0,687.0 L654.6,688.6 L656.2,690.3 L657.7,692.1 L659.2,693.9 L660.6,695.8 L661.9,697.7 L663.1,699.8 L664.3,701.8 L665.4,703.9" fill="none" stroke="#000" stroke-width="0.8" stroke-linejoin="miter" />
<path d="M625.7,674.5 L627.2,673.8 L628.7,673.1 L630.3,672.6 L632.0,672.2 L633.7,671.9 L635.4,671.8 L637.2,671.8 L639.0,671.9 L640.8,672.1 L642.6,672.5 L644.5,673.0 L646.3,673.6 L648.2,674.3 L650.1,675.2 L651.9,676.1 L653.7,677.2 L655.5,678.4 L657.3,679.7 L659.0,681.1 L660.7,682.6 L662.3,684.2 L663.9,685.9 L665.4,687.6 L666.9,689.4 L668.3,691.3 L669.6,693.3 L670.9,695.3 L672.0,697.4 L673.1,699.5" fill="none" stroke="#000" stroke-width="0.8" stroke-linejoin="miter" />
<path d="M628.0,673.2 L629.4,672.5 L631.0,671.8 L632.6,671.3 L634.2,670.9 L635.9,670.6 L637.6,670.5 L639.4,670.5 L641.2,670.6 L643.0,670.8 L644.9,671.2 L646.7,671.7 L648.6,672.3 L650.5,673.0 L652.3,673.9 L654.1,674.8 L656.0,675.9 L657.8,677.1 L659.5,678.4 L661.3,679.8 L662.9,681.3 L664.6,682.9 L666.2,684.6 L667.7,686.3 L669.2,688.1 L670.5,690.0 L671.9,692.0 L673.1,694.0 L674.3,696.1 L675.3,698.2" fill="none" stroke="#000" stroke-width="0.8" stroke-linejoin="miter" />
<path d="M635.7,668.8 L637.1,668.0 L638.7,667.4 L640.3,666.9 L641.9,666.5 L643.6,666.2 L645.3,666.0 L647.1,666.0 L648.9,666.1 L650.7,666.4 L652.6,666.7 L654.4,667.2 L656.3,667.8 L658.2,668.6 L660.0,669.4 L661.9,670.4 L663.7,671.5 L665.5,672.7 L667.2,673.9 L669.0,675.3 L670.7,676.8 L672.3,678.4 L673.9,680.1 L675.4,681.9 L676.9,683.7 L678.3,685.6 L679.6,687.5 L680.8,689.6 L682.0,691.6 L683.0,693.7" fill="none" stroke="#000" stroke-width="0.8" stroke-linejoin="miter" />
<path d="M637.9,667.5 L639.4,666.7 L640.9,666.1 L642.5,665.6 L644.2,665.2 L645.9,664.9 L647.6,664.7 L649.4,664.7 L651.2,664.8 L653.0,665.1 L654.8,665.4 L656.7,665.9 L658.5,666.5 L660.4,667.3 L662.3,668.1 L664.1,669.1 L665.9,670.2 L667.7,671.4 L669.5,672.6 L671.2,674.0 L672.9,675.5 L674.5,677.1 L676.1,678.8 L677.7,680.6 L679.1,682.4 L680.5,684.3 L681.8,686.2 L683.1,688.3 L684.2,690.3 L685.3,692.4" fill="none" stroke="#000" stroke-width="0.8" stroke-linejoin="miter" />
<path d="M645.6,663.0 L647.1,662.3 L648.6,661.6 L650.2,661.1 L651.9,660.7 L653.6,660.4 L655.3,660.3 L657.1,660.3 L658.9,660.4 L660.7,660.6 L662.5,661.0 L664.4,661.5 L666.3,662.1 L668.1,662.8 L670.0,663.7 L671.8,664.6 L673.6,665.7 L675.4,666.9 L677.2,668.2 L678.9,669.6 L680.6,671.1 L682.2,672.7 L683.8,674.4 L685.4,676.1 L686.8,677.9 L688.2,679.8 L689.5,681.8 L690.8,683.8 L691.9,685.9 L693.0,688.0" fill="none" stroke="#000" stroke-width="0.8" stroke-linejoin="miter" />
<path d="M647.9,661.7 L649.4,661.0 L650.9,660.3 L652.5,659.8 L654.1,659.4 L655.8,659.1 L657.6,659.0 L659.3,659.0 L661.1,659.1 L663.0,659.3 L664.8,659.7 L666.6,660.2 L668.5,660.8 L670.4,661.5 L672.2,662.4 L674.1,663.3 L675.9,664.4 L677.7,665.6 L679.4,666.9 L681.2,668.3 L682.9,669.8 L684.5,671.4 L686.1,673.1 L687.6,674.8 L689.1,676.6 L690.5,678.5 L691.8,680.5 L693.0,682.5 L694.2,684.6 L695.3,686.7" fill="none" stroke="#000" stroke-width="0.8" stroke-linejoin="miter" />
<path d="M655.6,657.3 L657.1,656.5 L658.6,655.9 L660.2,655.4 L661.8,655.0 L663.5,654.7 L665.3,654.5 L667.0,654.5 L668.8,654.6 L670.7,654.9 L672.5,655.2 L674.4,655.7 L676.2,656.3 L678.1,657.1 L679.9,657.9 L681.8,658.9 L683.6,660.0 L685.4,661.2 L687.2,662.4 L688.9,663.8 L690.6,665.3 L692.2,666.9 L693.8,668.6 L695.3,670.4 L696.8,672.2 L698.2,674.1 L699.5,676.0 L700.7,678.1 L701.9,680.1 L703.0,682.2" fill="none" stroke="#000" stroke-width="0.8" stroke-linejoin="miter" />
<path d="M657.9,656.0 L659.3,655.2 L660.9,654.6 L662.4,654.1 L664.1,653.7 L665.8,653.4 L667.5,653.2 L669.3,653.2 L671.1,653.3 L672.9,653.6 L674.8,653.9 L676.6,654.4 L678.5,655.0 L680.3,655.8 L682.2,656.6 L684.0,657.6 L685.8,658.7 L687.6,659.9 L689.4,661.1 L691.1,662.5 L692.8,664.0 L694.5,665.6 L696.0,667.3 L697.6,669.1 L699.0,670.9 L700.4,672.8 L701.7,674.7 L703.0,676.8 L704.1,678.8 L705.2,680.9" fill="none" stroke="#000" stroke-width="0.8" stroke-linejoin="miter" />
<path d="M665.6,651.5 L667.0,650.8 L668.6,650.1 L670.2,649.6 L671.8,649.2 L673.5,648.9 L675.2,648.8 L677.0,648.8 L678.8,648.9 L680.6,649.1 L682.5,649.5 L684.3,650.0 L686.2,650.6 L688.0,651.3 L689.9,652.2 L691.7,653.1 L693.6,654.2 L695.3,655.4 L697.1,656.7 L698.8,658.1 L700.5,659.6 L702.2,661.2 L703.8,662.9 L705.3,664.6 L706.7,666.4 L708.1,668.3 L709.4,670.3 L710.7,672.3 L711.8,674.4 L712.9,676.5" fill="none" stroke="#000" stroke-width="0.8" stroke-linejoin="miter" />
<path d="M667.8,650.2 L669.3,649.5 L670.8,648.8 L672.4,648.3 L674.0,647.9 L675.7,647.6 L677.5,647.5 L679.2,647.5 L681.0,647.6 L682.9,647.8 L684.7,648.2 L686.6,648.7 L688.4,649.3 L690.3,650.0 L692.1,650.9 L694.0,651.8 L695.8,652.9 L697.6,654.1 L699.4,655.4 L701.1,656.8 L702.8,658.3 L704.4,659.9 L706.0,661.6 L707.5,663.3 L709.0,665.1 L710.4,667.0 L711.7,669.0 L712.9,671.0 L714.1,673.1 L715.2,675.2" fill="none" stroke="#000" stroke-width="0.8" stroke-linejoin="miter" />
<path d="M628.5,725.2 L722.0,671.2" fill="none" stroke="#000" stroke-width="0.9" stroke-linejoin="miter" />
<path d="M722.0,671.2 L727.4,693.6" fill="none" stroke="#000" stroke-width="0.9" stroke-linejoin="miter" />
<path d="M633.7,733.5 L723.8,681.5" fill="none" stroke="#000" stroke-width="0.9" stroke-linejoin="miter" />
<path d="M710.7,676.0 L745.8,663.0 L748.0,700.0 L722.0,718.0 L713.5,706.0Z" fill="#fff" stroke="#000" stroke-width="1.1" stroke-linejoin="round"/>
<ellipse cx="735.0" cy="698.5" rx="12.5" ry="9.4" transform="rotate(120 735.0 698.5)" fill="none" stroke="#000" stroke-width="1.7" />
<ellipse cx="735.0" cy="698.5" rx="10.5" ry="7.9" transform="rotate(120 735.0 698.5)" fill="none" stroke="#000" stroke-width="0.8" />
<path d="M731.3,707.3 A9.5,7.1 120 0 1 740.8,690.9" fill="none" stroke="#000" stroke-width="0.6"/>
<path d="M732.8,707.1 A8.5,6.4 120 0 1 741.3,692.3" fill="none" stroke="#000" stroke-width="0.6"/>
<path d="M734.4,706.8 A7.5,5.6 120 0 1 741.9,693.8" fill="none" stroke="#000" stroke-width="0.6"/>
<path d="M735.9,706.5 A6.5,4.9 120 0 1 742.4,695.3" fill="none" stroke="#000" stroke-width="0.6"/>
<path d="M738.0,697.0 L762.0,711.0" fill="none" stroke="#000" stroke-width="0.9" stroke-linejoin="miter" />
<path d="M728.3,615.3 A41.0,28.7 60 0 1 769.3,686.3" fill="none" stroke="#000" stroke-width="0.8"/>
<path d="M732.7,612.8 A41.0,28.7 60 0 1 773.7,683.8" fill="none" stroke="#000" stroke-width="0.8"/>
<path d="M735.0,630.5 L752.0,621.6 L754.0,625.0 L737.0,633.7Z" fill="#fff" stroke="#000" stroke-width="1" stroke-linejoin="round"/>
<ellipse cx="759.0" cy="642.8" rx="4.0" ry="3.2" transform="rotate(60 759.0 642.8)" fill="none" stroke="#000" stroke-width="1" />
<ellipse cx="770.5" cy="667.6" rx="2.8" ry="2.2" transform="rotate(60 770.5 667.6)" fill="none" stroke="#000" stroke-width="1" />
<ellipse cx="721.6" cy="629" rx="10" ry="5.2" fill="#fff" stroke="#000" stroke-width="1.2"/>
<path d="M722.0,608.0 L722.0,630.0" fill="none" stroke="#000" stroke-width="0.9" stroke-linejoin="miter" />
<rect x="558.7" y="723.1" width="4.6" height="4.6" fill="none" stroke="#000" stroke-width="0.8" transform="rotate(30 561.0 725.4)"/>
<rect x="555.5" y="730.8" width="4.6" height="4.6" fill="none" stroke="#000" stroke-width="0.8" transform="rotate(30 557.8 733.1)"/>
<rect x="555.1" y="740.0" width="4.6" height="4.6" fill="none" stroke="#000" stroke-width="0.8" transform="rotate(30 557.4 742.3)"/>
<rect x="557.3" y="749.7" width="4.6" height="4.6" fill="none" stroke="#000" stroke-width="0.8" transform="rotate(30 559.6 752.0)"/>
<rect x="562.1" y="758.9" width="4.6" height="4.6" fill="none" stroke="#000" stroke-width="0.8" transform="rotate(30 564.4 761.2)"/>
<rect x="568.8" y="766.6" width="4.6" height="4.6" fill="none" stroke="#000" stroke-width="0.8" transform="rotate(30 571.1 768.9)"/>
<rect x="576.8" y="771.8" width="4.6" height="4.6" fill="none" stroke="#000" stroke-width="0.8" transform="rotate(30 579.1 774.1)"/>
<path d="M578.4,714.7 L581.5,715.3 L584.4,719.3 L587.2,720.5 L590.7,719.5 L593.6,721.6 L595.0,726.2 L597.4,728.7 L601.4,729.7 L603.5,732.8 L603.3,737.2 L604.7,740.3 L608.4,743.2 L609.4,746.8 L607.5,750.1 L607.8,753.3 L610.4,757.4 L610.1,760.8 L606.8,762.4 L605.9,765.0 L607.0,769.7 L605.4,772.1 L601.5,771.7 L599.6,773.3 L598.9,777.5 L596.3,778.6 L592.5,776.2" fill="none" stroke="#000" stroke-width="0.9" stroke-linejoin="miter" />
<path d="M663.5,635 Q674,626 685.3,624 L695,625.3 Q708,633 718,645.8 L698.6,656.7 Q690,643 677,638 Z" fill="#fff" stroke="#000" stroke-width="1.4"/>
<path d="M641.7,750 L720.4,708.8 Q724,726 721.6,744 L645.3,786.3 Q647,768 641.7,750 Z" fill="#fff" stroke="#000" stroke-width="1.5"/>
<path d="M543.6,693 L583.6,662.8 Q581,673 582.4,684.6 L543.6,707.6 Q545,700 543.6,693 Z" fill="#fff" stroke="#000" stroke-width="1.3"/>
<circle cx="547" cy="699" r="1.2" fill="none" stroke="#000" stroke-width="0.8"/><circle cx="577" cy="676" r="1.2" fill="none" stroke="#000" stroke-width="0.8"/>
<path d="M532.0,687.0 L540.0,690.5" stroke="#000" stroke-width="5.2" stroke-linecap="round"/><path d="M532.0,687.0 L540.0,690.5" stroke="#fff" stroke-width="3.2" stroke-linecap="round"/>
<ellipse cx="759.0" cy="713.0" rx="12.5" ry="9.0" transform="rotate(120 759.0 713.0)" fill="none" stroke="#000" stroke-width="2" />
<path d="M782.0,725.0 L800.0,735.0" stroke="#000" stroke-width="7.4" stroke-linecap="round"/><path d="M782.0,725.0 L800.0,735.0" stroke="#fff" stroke-width="5.2" stroke-linecap="round"/>
<path d="M781.5,712.0 L785.0,714.0 A11.0,8.8 120 0 1 774.0,733.0 L770.5,731.0 A11.0,8.8 120 0 1 781.5,712.0 Z" fill="#fff" stroke="#000" stroke-width="1.5" stroke-linejoin="round"/><ellipse cx="776.0" cy="721.5" rx="11.0" ry="8.8" transform="rotate(120 776.0 721.5)" fill="none" stroke="#000" stroke-width="1" />
<ellipse cx="776.0" cy="721.5" rx="6.0" ry="4.8" transform="rotate(120 776.0 721.5)" fill="none" stroke="#000" stroke-width="0.8" />
<path d="M810.0,729.6 L816.1,733.1 A12.0,9.6 120 0 1 804.1,753.9 L798.0,750.4 A12.0,9.6 120 0 1 810.0,729.6 Z" fill="#fff" stroke="#000" stroke-width="1.5" stroke-linejoin="round"/><ellipse cx="804.0" cy="740.0" rx="12.0" ry="9.6" transform="rotate(120 804.0 740.0)" fill="none" stroke="#000" stroke-width="1" />
<path d="M811.7,730.6 A12.0,9.6 120 0 1 799.7,751.4" fill="none" stroke="#000" stroke-width="0.6"/>
<path d="M813.5,731.6 A12.0,9.6 120 0 1 801.5,752.4" fill="none" stroke="#000" stroke-width="0.6"/>
<path d="M817.6,730.5 L829.7,737.5 A15.0,12.0 120 0 1 814.7,763.5 L802.6,756.5 A15.0,12.0 120 0 1 817.6,730.5 Z" fill="#fff" stroke="#000" stroke-width="1.6" stroke-linejoin="round"/>
<path d="M819.3,731.5 A15.0,12.0 120 0 1 804.3,757.5" fill="none" stroke="#000" stroke-width="0.6"/>
<path d="M821.0,732.5 A15.0,12.0 120 0 1 806.0,758.5" fill="none" stroke="#000" stroke-width="0.6"/>
<path d="M822.8,733.5 A15.0,12.0 120 0 1 807.8,759.5" fill="none" stroke="#000" stroke-width="0.6"/>
<path d="M824.5,734.5 A15.0,12.0 120 0 1 809.5,760.5" fill="none" stroke="#000" stroke-width="0.6"/>
<path d="M826.2,735.5 A15.0,12.0 120 0 1 811.2,761.5" fill="none" stroke="#000" stroke-width="0.6"/>
<path d="M828.0,736.5 A15.0,12.0 120 0 1 813.0,762.5" fill="none" stroke="#000" stroke-width="0.6"/>
<ellipse cx="822.2" cy="750.5" rx="15.0" ry="12.0" transform="rotate(120 822.2 750.5)" fill="none" stroke="#000" stroke-width="1.5" />
<ellipse cx="822.2" cy="750.5" rx="5.0" ry="4.2" transform="rotate(120 822.2 750.5)" fill="none" stroke="#000" stroke-width="1.1" /><path d="M528.6,234.8 L573.6,209.0" fill="none" stroke="#000" stroke-width="1" stroke-linejoin="miter" />
<path d="M600.0,193.7 L667.8,154.4" fill="none" stroke="#000" stroke-width="1" stroke-linejoin="miter" />
<path d="M433.7,501.4 L449.6,492.9" fill="none" stroke="#000" stroke-width="1" stroke-linejoin="miter" />
<path d="M387.0,524.5 L404.0,518.3" fill="none" stroke="#000" stroke-width="1" stroke-linejoin="miter" />
<path d="M675.8,104.6 L705.6,87.4 A39.7,24.6 60 0 1 745.3,156.1 L715.5,173.4 A39.7,24.6 60 0 1 675.8,104.6 Z" fill="#fff" stroke="#000" stroke-width="1.9" stroke-linejoin="round"/>
<ellipse cx="695.6" cy="139.0" rx="33.0" ry="20.5" transform="rotate(60 695.6 139.0)" fill="none" stroke="#000" stroke-width="0.8" />
<path d="M710.1,164.1 L709.9,157.9 L715.0,158.8 L712.7,152.1 L716.9,150.4 L713.0,144.4 L715.5,140.3 L710.6,135.8 L711.2,130.0 L705.9,127.6 L704.4,121.1 L699.6,121.3 L696.4,114.9 L692.8,117.6 L688.2,112.4 L686.3,117.2 L681.1,113.9 L681.3,120.1 L676.2,119.2 L678.5,125.9 L674.3,127.6 L678.2,133.6 L675.7,137.7 L680.6,142.2 L680.0,148.0 L685.3,150.4 L686.8,156.9 L691.6,156.7 L694.8,163.1 L698.4,160.4 L703.0,165.6 L704.9,160.8Z" fill="#fff" stroke="#000" stroke-width="1.2" stroke-linejoin="round"/>
<clipPath id="cp28"><ellipse cx="695.6" cy="139.0" rx="32.5" ry="20.1" transform="rotate(60 695.6 139.0)"/></clipPath>
<g clip-path="url(#cp28)"><path d="M710.1,164.1 L729.2,153.1" fill="none" stroke="#000" stroke-width="0.7" stroke-linejoin="miter" /><path d="M709.9,157.9 L728.9,146.9" fill="none" stroke="#000" stroke-width="0.7" stroke-linejoin="miter" /><path d="M686.3,117.2 L705.4,106.2" fill="none" stroke="#000" stroke-width="0.7" stroke-linejoin="miter" /><path d="M681.1,113.9 L700.2,102.9" fill="none" stroke="#000" stroke-width="0.7" stroke-linejoin="miter" /><path d="M681.3,120.1 L700.4,109.1" fill="none" stroke="#000" stroke-width="0.7" stroke-linejoin="miter" /><path d="M676.2,119.2 L695.3,108.2" fill="none" stroke="#000" stroke-width="0.7" stroke-linejoin="miter" /><path d="M678.5,125.9 L697.5,114.9" fill="none" stroke="#000" stroke-width="0.7" stroke-linejoin="miter" /><path d="M674.3,127.6 L693.4,116.6" fill="none" stroke="#000" stroke-width="0.7" stroke-linejoin="miter" /><path d="M678.2,133.6 L697.3,122.6" fill="none" stroke="#000" stroke-width="0.7" stroke-linejoin="miter" /><path d="M675.7,137.7 L694.7,126.7" fill="none" stroke="#000" stroke-width="0.7" stroke-linejoin="miter" /><path d="M680.6,142.2 L699.7,131.2" fill="none" stroke="#000" stroke-width="0.7" stroke-linejoin="miter" /><path d="M680.0,148.0 L699.1,137.0" fill="none" stroke="#000" stroke-width="0.7" stroke-linejoin="miter" /><path d="M685.3,150.4 L704.4,139.4" fill="none" stroke="#000" stroke-width="0.7" stroke-linejoin="miter" /><path d="M686.8,156.9 L705.8,145.9" fill="none" stroke="#000" stroke-width="0.7" stroke-linejoin="miter" /><path d="M691.6,156.7 L710.6,145.7" fill="none" stroke="#000" stroke-width="0.7" stroke-linejoin="miter" /><path d="M694.8,163.1 L713.9,152.1" fill="none" stroke="#000" stroke-width="0.7" stroke-linejoin="miter" /><path d="M698.4,160.4 L717.5,149.4" fill="none" stroke="#000" stroke-width="0.7" stroke-linejoin="miter" /><path d="M703.0,165.6 L722.1,154.6" fill="none" stroke="#000" stroke-width="0.7" stroke-linejoin="miter" /><path d="M704.9,160.8 L723.9,149.8" fill="none" stroke="#000" stroke-width="0.7" stroke-linejoin="miter" /></g>
<path d="M653.5,127.0 L656.1,125.5 A30.8,18.2 60 0 1 686.9,178.9 L684.3,180.4 A30.8,18.2 60 0 1 653.5,127.0 Z" fill="#fff" stroke="#000" stroke-width="1.5" stroke-linejoin="round"/>
<ellipse cx="668.9" cy="153.7" rx="30.8" ry="18.2" transform="rotate(60 668.9 153.7)" fill="#fff" stroke="#000" stroke-width="1.6" />
<ellipse cx="668.6" cy="153.2" rx="17.3" ry="10.2" transform="rotate(60 668.6 153.2)" fill="none" stroke="#000" stroke-width="1.6" />
<path d="M674.9,168.1 A16.0,9.4 60 0 1 658.9,140.3" fill="none" stroke="#000" stroke-width="0.8"/>
<path d="M667.8,154.4 L600.0,193.7" fill="none" stroke="#000" stroke-width="1" stroke-linejoin="miter" />
<path d="M643.6,163.1 L643.6,158.4 L647.1,157.4 L644.4,152.6 L645.6,148.6 L641.5,146.1 L639.9,141.0 L636.4,141.8 L632.7,138.1 L631.4,141.9 L627.4,141.2 L628.8,146.2 L626.3,148.9 L629.9,152.8 L630.1,157.6 L634.1,158.5 L636.9,163.2 L639.5,160.7Z" fill="#fff" stroke="#000" stroke-width="1.2" stroke-linejoin="round"/>
<path d="M619.2,148.9 L631.4,141.9 A10.5,6.8 60 0 1 641.9,160.1 L629.8,167.1 A10.5,6.8 60 0 1 619.2,148.9 Z" fill="#fff" stroke="#000" stroke-width="0" stroke-linejoin="round"/>
<path d="M631.5,170.1 L643.6,163.1" fill="none" stroke="#000" stroke-width="0.8" stroke-linejoin="miter" />
<path d="M631.5,165.4 L643.6,158.4" fill="none" stroke="#000" stroke-width="0.8" stroke-linejoin="miter" />
<path d="M634.9,164.4 L647.1,157.4" fill="none" stroke="#000" stroke-width="0.8" stroke-linejoin="miter" />
<path d="M632.2,159.6 L644.4,152.6" fill="none" stroke="#000" stroke-width="0.8" stroke-linejoin="miter" />
<path d="M633.5,155.6 L645.6,148.6" fill="none" stroke="#000" stroke-width="0.8" stroke-linejoin="miter" />
<path d="M629.4,153.1 L641.5,146.1" fill="none" stroke="#000" stroke-width="0.8" stroke-linejoin="miter" />
<path d="M627.8,148.0 L639.9,141.0" fill="none" stroke="#000" stroke-width="0.8" stroke-linejoin="miter" />
<path d="M624.3,148.8 L636.4,141.8" fill="none" stroke="#000" stroke-width="0.8" stroke-linejoin="miter" />
<path d="M620.6,145.1 L632.7,138.1" fill="none" stroke="#000" stroke-width="0.8" stroke-linejoin="miter" />
<path d="M619.2,148.9 L631.4,141.9" fill="none" stroke="#000" stroke-width="0.8" stroke-linejoin="miter" />
<path d="M615.2,148.2 L627.4,141.2" fill="none" stroke="#000" stroke-width="0.8" stroke-linejoin="miter" />
<path d="M627.4,167.7 L639.5,160.7" fill="none" stroke="#000" stroke-width="0.8" stroke-linejoin="miter" />
<path d="M631.5,170.1 L631.5,165.4 L634.9,164.4 L632.2,159.6 L633.5,155.6 L629.4,153.1 L627.8,148.0 L624.3,148.8 L620.6,145.1 L619.2,148.9 L615.2,148.2 L616.7,153.2 L614.2,155.9 L617.8,159.8 L618.0,164.6 L622.0,165.5 L624.8,170.2 L627.4,167.7Z" fill="#fff" stroke="#000" stroke-width="1.5" stroke-linejoin="round"/>
<ellipse cx="624.5" cy="158.0" rx="5.5" ry="3.8" transform="rotate(60 624.5 158.0)" fill="none" stroke="#000" stroke-width="1.1" />
<path d="M599.5,165.5 L610.8,159.0 A8.0,5.0 60 0 1 618.8,172.8 L607.5,179.3 A8.0,5.0 60 0 1 599.5,165.5 Z" fill="#fff" stroke="#000" stroke-width="1.4" stroke-linejoin="round"/><ellipse cx="603.5" cy="172.4" rx="8.0" ry="5.0" transform="rotate(60 603.5 172.4)" fill="none" stroke="#000" stroke-width="1" />
<ellipse cx="603.5" cy="172.4" rx="5.0" ry="3.5" transform="rotate(60 603.5 172.4)" fill="none" stroke="#000" stroke-width="0.8" />
<path d="M602.6,178.6 L613.0,172.6" fill="none" stroke="#000" stroke-width="0.9" stroke-linejoin="miter" />
<path d="M606.1,179.8 L616.4,173.8" fill="none" stroke="#000" stroke-width="0.9" stroke-linejoin="miter" />
<path d="M608.6,178.3 L619.0,172.3" fill="none" stroke="#000" stroke-width="0.9" stroke-linejoin="miter" />
<path d="M609.4,174.8 L619.7,168.8" fill="none" stroke="#000" stroke-width="0.9" stroke-linejoin="miter" />
<path d="M608.1,170.4 L618.5,164.4" fill="none" stroke="#000" stroke-width="0.9" stroke-linejoin="miter" />
<path d="M605.2,166.8 L615.6,160.8" fill="none" stroke="#000" stroke-width="0.9" stroke-linejoin="miter" />
<ellipse cx="592.0" cy="178.4" rx="10.0" ry="6.2" transform="rotate(60 592.0 178.4)" fill="#fff" stroke="#000" stroke-width="1.4" />
<ellipse cx="591.5" cy="178.8" rx="4.3" ry="3.0" transform="rotate(60 591.5 178.8)" fill="none" stroke="#000" stroke-width="1.1" />
<path d="M551.3,175.4 L553.5,174.2 A40.0,24.8 60 0 1 593.5,243.4 L591.3,244.7 A40.0,24.8 60 0 1 551.3,175.4 Z" fill="none" stroke="#000" stroke-width="1.6" stroke-linejoin="round"/>
<ellipse cx="571.3" cy="210.1" rx="40.0" ry="24.8" transform="rotate(60 571.3 210.1)" fill="none" stroke="#000" stroke-width="1.7" />
<ellipse cx="573.5" cy="209.1" rx="29.8" ry="17.6" transform="rotate(60 573.5 209.1)" fill="none" stroke="#000" stroke-width="1.7" />
<path d="M587.1,237.6 A31.5,18.6 60 0 1 555.6,183.1" fill="none" stroke="#000" stroke-width="0.8"/>
<path d="M528.6,234.8 L573.6,209.0" fill="none" stroke="#000" stroke-width="1" stroke-linejoin="miter" />
<path d="M521.5,219.0 L538.0,210.5" stroke="#000" stroke-width="9.4" stroke-linecap="round"/><path d="M521.5,219.0 L538.0,210.5" stroke="#fff" stroke-width="6.8" stroke-linecap="round"/>
<ellipse cx="521.3" cy="219.1" rx="3.5" ry="2.8" transform="rotate(60 521.3 219.1)" fill="none" stroke="#000" stroke-width="1" />
<path d="M487.0,227.8 L495.7,222.8 A28.0,19.0 60 0 1 523.7,271.2 L515.0,276.2 A28.0,19.0 60 0 1 487.0,227.8 Z" fill="#fff" stroke="#000" stroke-width="1.9" stroke-linejoin="round"/>
<ellipse cx="501.0" cy="252.0" rx="28.0" ry="19.0" transform="rotate(60 501.0 252.0)" fill="none" stroke="#000" stroke-width="1.5" />
<ellipse cx="500.1" cy="252.5" rx="14.0" ry="9.0" transform="rotate(60 500.1 252.5)" fill="none" stroke="#000" stroke-width="1.4" />
<ellipse cx="500.1" cy="252.5" rx="11.0" ry="7.0" transform="rotate(60 500.1 252.5)" fill="none" stroke="#000" stroke-width="1.4" />
<ellipse cx="501.9" cy="251.5" rx="8.0" ry="5.1" transform="rotate(60 501.9 251.5)" fill="none" stroke="#000" stroke-width="0.8" />
<ellipse cx="516.4" cy="257.4" rx="3.0" ry="2.2" transform="rotate(60 516.4 257.4)" fill="none" stroke="#000" stroke-width="1" />
<ellipse cx="497.2" cy="267.6" rx="3.0" ry="2.2" transform="rotate(60 497.2 267.6)" fill="none" stroke="#000" stroke-width="1" />
<ellipse cx="495.5" cy="233.4" rx="3.0" ry="2.2" transform="rotate(60 495.5 233.4)" fill="none" stroke="#000" stroke-width="1" />
<path d="M441.0,251.6 L456.6,242.6 A34.0,21.1 60 0 1 490.6,301.4 L475.0,310.4 A34.0,21.1 60 0 1 441.0,251.6 Z" fill="#fff" stroke="#000" stroke-width="1.9" stroke-linejoin="round"/>
<ellipse cx="458.0" cy="281.0" rx="34.0" ry="21.1" transform="rotate(60 458.0 281.0)" fill="none" stroke="#000" stroke-width="0.8" />
<ellipse cx="457.6" cy="281.2" rx="27.0" ry="16.7" transform="rotate(60 457.6 281.2)" fill="none" stroke="#000" stroke-width="0.8" />
<ellipse cx="457.6" cy="281.2" rx="22.0" ry="13.6" transform="rotate(60 457.6 281.2)" fill="none" stroke="#000" stroke-width="0.8" />
<path d="M410.8,267.4 L426.4,258.4 A33.0,20.5 60 0 1 459.4,315.6 L443.8,324.6 A33.0,20.5 60 0 1 410.8,267.4 Z" fill="#fff" stroke="#000" stroke-width="1.9" stroke-linejoin="round"/>
<ellipse cx="427.3" cy="296.0" rx="33.0" ry="20.5" transform="rotate(60 427.3 296.0)" fill="none" stroke="#000" stroke-width="1.9" />
<ellipse cx="427.3" cy="296.0" rx="28.0" ry="17.4" transform="rotate(60 427.3 296.0)" fill="none" stroke="#000" stroke-width="0.8" />
<ellipse cx="427.3" cy="296.0" rx="22.0" ry="13.6" transform="rotate(60 427.3 296.0)" fill="none" stroke="#000" stroke-width="0.8" />
<ellipse cx="427.3" cy="296.0" rx="14.0" ry="8.7" transform="rotate(60 427.3 296.0)" fill="none" stroke="#000" stroke-width="0.8" />
<path d="M407.5,294.0 L416.2,289.0 A11.0,6.1 60 0 1 427.2,308.0 L418.5,313.0 A11.0,6.1 60 0 1 407.5,294.0 Z" fill="#fff" stroke="#000" stroke-width="1.6" stroke-linejoin="round"/><ellipse cx="413.0" cy="303.5" rx="11.0" ry="6.1" transform="rotate(60 413.0 303.5)" fill="none" stroke="#000" stroke-width="1.3" />
<path d="M373.8,309.2 L399.7,294.2 A12.5,6.9 60 0 1 412.2,315.8 L386.2,330.8 A12.5,6.9 60 0 1 373.8,309.2 Z" fill="#fff" stroke="#000" stroke-width="1.6" stroke-linejoin="round"/>
<path d="M352.5,313.5 L366.4,305.5 A19.0,11.4 60 0 1 385.4,338.5 L371.5,346.5 A19.0,11.4 60 0 1 352.5,313.5 Z" fill="#fff" stroke="#000" stroke-width="1.7" stroke-linejoin="round"/>
<path d="M375.2,341.4 L371.9,324.3 L358.7,312.9 L348.8,318.6 L352.1,335.7 L365.3,347.1Z" fill="#fff" stroke="#000" stroke-width="1.4" stroke-linejoin="round"/>
<path d="M335.2,333.0 L350.0,324.5 A11.5,6.9 60 0 1 361.5,344.5 L346.8,353.0 A11.5,6.9 60 0 1 335.2,333.0 Z" fill="#fff" stroke="#000" stroke-width="1.6" stroke-linejoin="round"/><ellipse cx="341.0" cy="343.0" rx="11.5" ry="6.9" transform="rotate(60 341.0 343.0)" fill="none" stroke="#000" stroke-width="1.5" />
<path d="M337.8,331.5 A11.5,6.9 60 0 1 349.3,351.5" fill="none" stroke="#000" stroke-width="0.55"/>
<path d="M339.6,330.5 A11.5,6.9 60 0 1 351.1,350.5" fill="none" stroke="#000" stroke-width="0.55"/>
<path d="M341.3,329.5 A11.5,6.9 60 0 1 352.8,349.5" fill="none" stroke="#000" stroke-width="0.55"/>
<path d="M343.0,328.5 A11.5,6.9 60 0 1 354.5,348.5" fill="none" stroke="#000" stroke-width="0.55"/>
<path d="M344.8,327.5 A11.5,6.9 60 0 1 356.3,347.5" fill="none" stroke="#000" stroke-width="0.55"/>
<path d="M346.5,326.5 A11.5,6.9 60 0 1 358.0,346.5" fill="none" stroke="#000" stroke-width="0.55"/>
<path d="M348.2,325.5 A11.5,6.9 60 0 1 359.7,345.5" fill="none" stroke="#000" stroke-width="0.55"/>
<path d="M683.2,317.9 L698.0,309.4 A33.0,21.4 60 0 1 731.0,366.6 L716.2,375.1 A33.0,21.4 60 0 1 683.2,317.9 Z" fill="#fff" stroke="#000" stroke-width="1.9" stroke-linejoin="round"/>
<path d="M685.8,316.4 A33.0,21.4 60 0 1 718.8,373.6" fill="none" stroke="#000" stroke-width="0.7"/>
<path d="M688.4,314.9 A33.0,21.4 60 0 1 721.4,372.1" fill="none" stroke="#000" stroke-width="0.7"/>
<path d="M691.0,313.4 A33.0,21.4 60 0 1 724.0,370.6" fill="none" stroke="#000" stroke-width="0.7"/>
<path d="M693.6,311.9 A33.0,21.4 60 0 1 726.6,369.1" fill="none" stroke="#000" stroke-width="0.7"/>
<path d="M696.2,310.4 A33.0,21.4 60 0 1 729.2,367.6" fill="none" stroke="#000" stroke-width="0.7"/>
<path d="M633.4,349.6 L684.5,320.1 A30.5,19.8 60 0 1 715.0,372.9 L663.9,402.4 A30.5,19.8 60 0 1 633.4,349.6 Z" fill="#fff" stroke="#000" stroke-width="1.9" stroke-linejoin="round"/>
<path d="M684.5,320.1 A30.5,19.8 60 0 1 715.0,372.9" fill="none" stroke="#000" stroke-width="1.2"/>
<path d="M672.5,397.3 L711.5,374.8" fill="none" stroke="#000" stroke-width="0.8" stroke-linejoin="miter" />
<path d="M681.7,375.9 L720.7,353.4" fill="none" stroke="#000" stroke-width="0.8" stroke-linejoin="miter" />
<path d="M631.9,351.0 L659.6,335.0 L658.6,329.3 L632.6,344.3Z" fill="#fff" stroke="#000" stroke-width="1.2" stroke-linejoin="round"/>
<path d="M659.6,335.0 L663.6,341.9 L687.0,328.4" fill="none" stroke="#000" stroke-width="0.8" stroke-linejoin="miter" />
<path d="M683.4,372.1 L704.1,360.1 L707.6,366.2 L686.9,378.2Z" fill="#fff" stroke="#000" stroke-width="0.9" stroke-linejoin="round"/>
<path d="M624.0,361.3 L636.1,354.3 A25.0,16.2 60 0 1 661.1,397.7 L649.0,404.7 A25.0,16.2 60 0 1 624.0,361.3 Z" fill="#fff" stroke="#000" stroke-width="1.9" stroke-linejoin="round"/>
<path d="M611.3,351.4 L616.5,348.4 A40.0,26.0 60 0 1 656.5,417.6 L651.3,420.6 A40.0,26.0 60 0 1 611.3,351.4 Z" fill="#fff" stroke="#000" stroke-width="1.9" stroke-linejoin="round"/><ellipse cx="631.3" cy="386.0" rx="40.0" ry="26.0" transform="rotate(60 631.3 386.0)" fill="none" stroke="#000" stroke-width="1.1" />
<path d="M650.7,417.5 A37.0,24.1 60 0 1 613.7,353.5" fill="none" stroke="#000" stroke-width="0.8"/>
<path d="M603.9,362.6 L614.3,356.6 A34.0,22.4 60 0 1 648.3,415.4 L637.9,421.4 A34.0,22.4 60 0 1 603.9,362.6 Z" fill="#fff" stroke="#000" stroke-width="1.2" stroke-linejoin="round"/>
<path d="M622.3,421.3 L631.9,415.8" fill="none" stroke="#000" stroke-width="0.8" stroke-linejoin="miter" />
<path d="M628.1,422.8 L637.6,417.3" fill="none" stroke="#000" stroke-width="0.8" stroke-linejoin="miter" />
<path d="M633.6,422.8 L643.1,417.3" fill="none" stroke="#000" stroke-width="0.8" stroke-linejoin="miter" />
<path d="M638.5,421.1 L648.0,415.6" fill="none" stroke="#000" stroke-width="0.8" stroke-linejoin="miter" />
<path d="M642.5,418.0 L652.0,412.5" fill="none" stroke="#000" stroke-width="0.8" stroke-linejoin="miter" />
<path d="M645.4,413.4 L654.9,407.9" fill="none" stroke="#000" stroke-width="0.8" stroke-linejoin="miter" />
<path d="M647.2,407.8 L656.7,402.3" fill="none" stroke="#000" stroke-width="0.8" stroke-linejoin="miter" />
<path d="M647.6,401.3 L657.1,395.8" fill="none" stroke="#000" stroke-width="0.8" stroke-linejoin="miter" />
<path d="M646.7,394.3 L656.2,388.8" fill="none" stroke="#000" stroke-width="0.8" stroke-linejoin="miter" />
<path d="M644.6,387.2 L654.1,381.7" fill="none" stroke="#000" stroke-width="0.8" stroke-linejoin="miter" />
<path d="M641.2,380.3 L650.8,374.8" fill="none" stroke="#000" stroke-width="0.8" stroke-linejoin="miter" />
<path d="M636.9,373.9 L646.4,368.4" fill="none" stroke="#000" stroke-width="0.8" stroke-linejoin="miter" />
<path d="M631.8,368.5 L641.3,363.0" fill="none" stroke="#000" stroke-width="0.8" stroke-linejoin="miter" />
<path d="M626.2,364.3 L635.7,358.8" fill="none" stroke="#000" stroke-width="0.8" stroke-linejoin="miter" />
<path d="M639.9,422.9 L640.2,418.8 L643.9,419.7 L643.4,415.3 L646.9,415.3 L645.7,410.7 L648.9,409.8 L646.9,405.3 L649.6,403.5 L647.0,399.4 L649.1,396.7 L646.0,393.0 L647.4,389.6 L644.0,386.6 L644.6,382.7 L640.9,380.4 L640.8,376.1 L637.1,374.7 L636.2,370.2 L632.6,369.8 L631.0,365.3 L627.6,365.8 L625.3,361.4 L622.3,362.9 L619.5,358.9 L617.1,361.2 L613.8,357.8 L612.0,360.9 L608.4,358.2 L607.4,361.9 L603.6,360.1 L603.4,364.2 L599.7,363.3 L600.2,367.7 L596.6,367.7 L597.9,372.3 L594.7,373.2 L596.7,377.7 L594.0,379.5 L596.6,383.6 L594.5,386.3 L597.6,390.0 L596.2,393.4 L599.6,396.4 L598.9,400.3 L602.6,402.6 L602.7,406.9 L606.5,408.3 L607.4,412.8 L611.0,413.2 L612.6,417.7 L616.0,417.2 L618.3,421.6 L621.2,420.1 L624.1,424.1 L626.5,421.8 L629.8,425.2 L631.6,422.1 L635.2,424.8 L636.2,421.1Z" fill="#fff" stroke="#000" stroke-width="1.0" stroke-linejoin="round"/>
<path d="M632.1,427.4 L639.9,422.9" fill="none" stroke="#000" stroke-width="0.8" stroke-linejoin="miter" />
<path d="M636.1,424.2 L643.9,419.7" fill="none" stroke="#000" stroke-width="0.8" stroke-linejoin="miter" />
<path d="M639.1,419.8 L646.9,415.3" fill="none" stroke="#000" stroke-width="0.8" stroke-linejoin="miter" />
<path d="M641.1,414.3 L648.9,409.8" fill="none" stroke="#000" stroke-width="0.8" stroke-linejoin="miter" />
<path d="M641.8,408.0 L649.6,403.5" fill="none" stroke="#000" stroke-width="0.8" stroke-linejoin="miter" />
<path d="M641.3,401.2 L649.1,396.7" fill="none" stroke="#000" stroke-width="0.8" stroke-linejoin="miter" />
<path d="M639.6,394.1 L647.4,389.6" fill="none" stroke="#000" stroke-width="0.8" stroke-linejoin="miter" />
<path d="M636.8,387.2 L644.6,382.7" fill="none" stroke="#000" stroke-width="0.8" stroke-linejoin="miter" />
<path d="M633.1,380.6 L640.8,376.1" fill="none" stroke="#000" stroke-width="0.8" stroke-linejoin="miter" />
<path d="M628.4,374.7 L636.2,370.2" fill="none" stroke="#000" stroke-width="0.8" stroke-linejoin="miter" />
<path d="M623.2,369.8 L631.0,365.3" fill="none" stroke="#000" stroke-width="0.8" stroke-linejoin="miter" />
<path d="M627.4,429.3 L635.2,424.8" fill="none" stroke="#000" stroke-width="0.8" stroke-linejoin="miter" />
<path d="M632.1,427.4 L632.4,423.3 L636.1,424.2 L635.6,419.8 L639.1,419.8 L637.9,415.2 L641.1,414.3 L639.1,409.8 L641.8,408.0 L639.2,403.9 L641.3,401.2 L638.2,397.5 L639.6,394.1 L636.2,391.1 L636.8,387.2 L633.1,384.9 L633.1,380.6 L629.3,379.2 L628.4,374.7 L624.8,374.3 L623.2,369.8 L619.8,370.3 L617.5,365.9 L614.6,367.4 L611.7,363.4 L609.3,365.7 L606.0,362.3 L604.2,365.4 L600.6,362.7 L599.6,366.4 L595.9,364.6 L595.6,368.7 L591.9,367.8 L592.4,372.2 L588.9,372.2 L590.1,376.8 L586.9,377.7 L588.9,382.2 L586.2,384.0 L588.8,388.1 L586.7,390.8 L589.8,394.5 L588.4,397.9 L591.8,400.9 L591.2,404.8 L594.9,407.1 L594.9,411.4 L598.7,412.8 L599.6,417.3 L603.2,417.7 L604.8,422.2 L608.2,421.7 L610.5,426.1 L613.4,424.6 L616.3,428.6 L618.7,426.3 L622.0,429.7 L623.8,426.6 L627.4,429.3 L628.4,425.6Z" fill="#fff" stroke="#000" stroke-width="1.4" stroke-linejoin="round"/>
<ellipse cx="609.5" cy="400.2" rx="23.7" ry="14.5" transform="rotate(60 609.5 400.2)" fill="none" stroke="#000" stroke-width="1.6" />
<path d="M622.4,419.3 A23.0,14.0 60 0 1 599.4,379.5" fill="none" stroke="#000" stroke-width="0.5"/>
<path d="M623.8,418.5 A23.0,14.0 60 0 1 600.8,378.7" fill="none" stroke="#000" stroke-width="0.5"/>
<path d="M625.2,417.7 A23.0,14.0 60 0 1 602.2,377.9" fill="none" stroke="#000" stroke-width="0.5"/>
<path d="M626.5,416.9 A23.0,14.0 60 0 1 603.5,377.1" fill="none" stroke="#000" stroke-width="0.5"/>
<path d="M627.9,416.1 A23.0,14.0 60 0 1 604.9,376.3" fill="none" stroke="#000" stroke-width="0.5"/>
<path d="M629.3,415.3 A23.0,14.0 60 0 1 606.3,375.5" fill="none" stroke="#000" stroke-width="0.5"/>
<path d="M630.7,414.5 A23.0,14.0 60 0 1 607.7,374.7" fill="none" stroke="#000" stroke-width="0.5"/>
<path d="M595.0,410.0 L640.0,384.0" fill="none" stroke="#000" stroke-width="1" stroke-linejoin="miter" />
<path d="M734.8,286.9 L813.2,241.6 A28.5,17.7 60 0 1 841.7,291.0 L763.2,336.3 A28.5,17.7 60 0 1 734.8,286.9 Z" fill="#fff" stroke="#000" stroke-width="1.9" stroke-linejoin="round"/>
<ellipse cx="749.0" cy="311.6" rx="28.5" ry="17.7" transform="rotate(60 749.0 311.6)" fill="none" stroke="#000" stroke-width="1.3" />
<path d="M765.8,334.8 A28.5,17.7 60 0 1 737.3,285.4" fill="none" stroke="#000" stroke-width="0.8"/>
<path d="M748.0,312.0 L781.0,293.0" fill="none" stroke="#000" stroke-width="1" stroke-linejoin="miter" />
<path d="M853.5,258.2 L884.0,242.0" fill="none" stroke="#000" stroke-width="1" stroke-linejoin="miter" />
<path d="M844.5,242.6 L851.4,238.6 A18.0,12.6 60 0 1 869.4,269.8 L862.5,273.8 A18.0,12.6 60 0 1 844.5,242.6 Z" fill="#fff" stroke="#000" stroke-width="1.7" stroke-linejoin="round"/>
<ellipse cx="853.5" cy="258.2" rx="18.0" ry="12.6" transform="rotate(60 853.5 258.2)" fill="none" stroke="#000" stroke-width="1.3" />
<ellipse cx="853.5" cy="258.2" rx="12.5" ry="8.8" transform="rotate(60 853.5 258.2)" fill="none" stroke="#000" stroke-width="0.8" />
<ellipse cx="853.5" cy="258.2" rx="8.0" ry="5.6" transform="rotate(60 853.5 258.2)" fill="none" stroke="#000" stroke-width="0.8" />
<ellipse cx="853.5" cy="258.2" rx="4.5" ry="3.1" transform="rotate(60 853.5 258.2)" fill="none" stroke="#000" stroke-width="0.8" />
<path d="M853.5,258.2 L870.0,249.0" fill="none" stroke="#000" stroke-width="0.9" stroke-linejoin="miter" />
<path d="M397.0,491.5 L404.8,487.0 A26.0,15.1 60 0 1 430.8,532.0 L423.0,536.5 A26.0,15.1 60 0 1 397.0,491.5 Z" fill="#fff" stroke="#000" stroke-width="1.9" stroke-linejoin="round"/>
<ellipse cx="410.0" cy="514.0" rx="26.0" ry="15.1" transform="rotate(60 410.0 514.0)" fill="none" stroke="#000" stroke-width="1.3" />
<ellipse cx="410.0" cy="514.0" rx="17.0" ry="10.5" transform="rotate(60 410.0 514.0)" fill="none" stroke="#000" stroke-width="0.8" />
<ellipse cx="410.0" cy="514.0" rx="10.0" ry="6.2" transform="rotate(60 410.0 514.0)" fill="none" stroke="#000" stroke-width="0.8" />
<ellipse cx="410.0" cy="514.0" rx="6.0" ry="3.7" transform="rotate(60 410.0 514.0)" fill="none" stroke="#000" stroke-width="0.8" />
<path d="M433.0,466.1 L450.3,456.1 A29.0,16.0 60 0 1 479.3,506.3 L462.0,516.3 A29.0,16.0 60 0 1 433.0,466.1 Z" fill="#fff" stroke="#000" stroke-width="1.9" stroke-linejoin="round"/>
<path d="M438.2,463.1 A29.0,16.0 60 0 1 467.2,513.3" fill="none" stroke="#000" stroke-width="0.6"/>
<path d="M439.9,462.1 A29.0,16.0 60 0 1 468.9,512.3" fill="none" stroke="#000" stroke-width="0.6"/>
<path d="M441.7,461.1 A29.0,16.0 60 0 1 470.7,511.3" fill="none" stroke="#000" stroke-width="0.6"/>
<path d="M443.4,460.1 A29.0,16.0 60 0 1 472.4,510.3" fill="none" stroke="#000" stroke-width="0.6"/>
<path d="M445.1,459.1 A29.0,16.0 60 0 1 474.1,509.3" fill="none" stroke="#000" stroke-width="0.6"/>
<path d="M446.9,458.1 A29.0,16.0 60 0 1 475.9,508.3" fill="none" stroke="#000" stroke-width="0.6"/>
<path d="M448.6,457.1 A29.0,16.0 60 0 1 477.6,507.3" fill="none" stroke="#000" stroke-width="0.6"/>
<ellipse cx="447.5" cy="491.2" rx="29.0" ry="16.0" transform="rotate(60 447.5 491.2)" fill="none" stroke="#000" stroke-width="1.8" />
<ellipse cx="448.4" cy="490.7" rx="24.0" ry="12.5" transform="rotate(60 448.4 490.7)" fill="none" stroke="#000" stroke-width="0.8" />
<ellipse cx="461.4" cy="483.2" rx="11.0" ry="6.6" transform="rotate(60 461.4 483.2)" fill="none" stroke="#000" stroke-width="0.8" />
<path d="M433.7,501.4 L449.6,492.9" fill="none" stroke="#000" stroke-width="1" stroke-linejoin="miter" />
<path d="M568.0,414.6 L576.7,409.6 A8.0,5.0 60 0 1 584.7,423.4 L576.0,428.4 A8.0,5.0 60 0 1 568.0,414.6 Z" fill="#fff" stroke="#000" stroke-width="1.5" stroke-linejoin="round"/><ellipse cx="572.0" cy="421.5" rx="8.0" ry="5.0" transform="rotate(60 572.0 421.5)" fill="none" stroke="#000" stroke-width="1" />
<path d="M503.0,439.1 L562.4,404.8 A19.3,12.0 60 0 1 581.7,438.2 L522.2,472.5 A19.3,12.0 60 0 1 503.0,439.1 Z" fill="#fff" stroke="#000" stroke-width="1.9" stroke-linejoin="round"/>
<ellipse cx="512.6" cy="455.8" rx="19.3" ry="12.0" transform="rotate(60 512.6 455.8)" fill="none" stroke="#000" stroke-width="1.3" />
<path d="M524.4,469.5 L572.9,441.5" fill="none" stroke="#000" stroke-width="0.9" stroke-linejoin="miter" />
<path d="M533.0,463.6 L581.5,435.6" fill="none" stroke="#000" stroke-width="0.9" stroke-linejoin="miter" />
<path d="M531.4,448.7 L579.9,420.7" fill="none" stroke="#000" stroke-width="0.9" stroke-linejoin="miter" />
<path d="M509.9,435.1 A19.3,12.0 60 0 1 529.2,468.5" fill="none" stroke="#000" stroke-width="0.8"/>
<path d="M556.6,408.1 A19.3,12.0 60 0 1 575.9,441.5" fill="none" stroke="#000" stroke-width="0.8"/>
<path d="M480.8,460.9 L499.8,449.9 A10.5,6.5 60 0 1 510.3,468.1 L491.2,479.1 A10.5,6.5 60 0 1 480.8,460.9 Z" fill="#fff" stroke="#000" stroke-width="1.5" stroke-linejoin="round"/>
<path d="M491.8,480.0 L491.6,476.0 L494.4,475.3 L492.1,471.4 L493.1,468.2 L489.8,466.1 L488.5,461.9 L485.7,462.7 L482.7,459.4 L481.8,462.6 L478.5,461.9 L479.8,466.1 L477.8,468.1 L480.8,471.3 L480.9,475.2 L484.2,476.0 L486.4,479.9 L488.4,477.8Z" fill="#fff" stroke="#000" stroke-width="1.3" stroke-linejoin="round"/>
<path d="M491.8,480.0 L509.1,470.0" fill="none" stroke="#000" stroke-width="0.8" stroke-linejoin="miter" />
<path d="M478.5,461.9 L495.8,451.9" fill="none" stroke="#000" stroke-width="0.8" stroke-linejoin="miter" />
<path d="M477.8,468.1 L495.1,458.1" fill="none" stroke="#000" stroke-width="0.8" stroke-linejoin="miter" />
<path d="M480.9,475.2 L498.2,465.2" fill="none" stroke="#000" stroke-width="0.8" stroke-linejoin="miter" />
<path d="M486.4,479.9 L503.8,469.9" fill="none" stroke="#000" stroke-width="0.8" stroke-linejoin="miter" />
<ellipse cx="486.0" cy="470.0" rx="3.0" ry="2.1" transform="rotate(60 486.0 470.0)" fill="none" stroke="#000" stroke-width="0.8" />
<path d="M512.5,415.0 L564.0,383.5 L568.5,384.0 L569.5,391.5 L518.0,423.5 L513.0,423.5Z" fill="#fff" stroke="#000" stroke-width="1.5" stroke-linejoin="round"/>
<path d="M513.0,415.5 L518.0,423.5" fill="none" stroke="#000" stroke-width="0.8" stroke-linejoin="miter" /><path d="M869.7,247.2 L898.7,233.7" fill="none" stroke="#000" stroke-width="1" stroke-linejoin="miter" />
<ellipse cx="961.2" cy="196.9" rx="27.0" ry="15.1" transform="rotate(60 961.2 196.9)" fill="none" stroke="#000" stroke-width="2.1" />
<path d="M910.8,193.5 L933.4,180.5 A27.5,16.5 60 0 1 960.9,228.1 L938.3,241.1 A27.5,16.5 60 0 1 910.8,193.5 Z" fill="#fff" stroke="#000" stroke-width="1.9" stroke-linejoin="round"/>
<path d="M914.3,191.5 A27.5,16.5 60 0 1 941.8,239.1" fill="none" stroke="#000" stroke-width="1.1"/>
<path d="M916.0,190.5 A27.5,16.5 60 0 1 943.5,238.1" fill="none" stroke="#000" stroke-width="0.6"/>
<path d="M918.6,189.0 A27.5,16.5 60 0 1 946.1,236.6" fill="none" stroke="#000" stroke-width="1.1"/>
<path d="M920.4,188.0 A27.5,16.5 60 0 1 947.9,235.6" fill="none" stroke="#000" stroke-width="0.6"/>
<path d="M923.0,186.5 A27.5,16.5 60 0 1 950.5,234.1" fill="none" stroke="#000" stroke-width="1.1"/>
<path d="M924.7,185.5 A27.5,16.5 60 0 1 952.2,233.1" fill="none" stroke="#000" stroke-width="0.6"/>
<path d="M927.3,184.0 A27.5,16.5 60 0 1 954.8,231.6" fill="none" stroke="#000" stroke-width="1.1"/>
<path d="M929.0,183.0 A27.5,16.5 60 0 1 956.5,230.6" fill="none" stroke="#000" stroke-width="0.6"/>
<path d="M931.6,181.5 A27.5,16.5 60 0 1 959.1,229.1" fill="none" stroke="#000" stroke-width="1.2"/>
<path d="M901.5,201.2 L911.8,195.2 A25.5,15.3 60 0 1 937.3,239.4 L927.0,245.4 A25.5,15.3 60 0 1 901.5,201.2 Z" fill="#fff" stroke="#000" stroke-width="1.9" stroke-linejoin="round"/>
<ellipse cx="914.2" cy="223.3" rx="25.5" ry="15.3" transform="rotate(60 914.2 223.3)" fill="none" stroke="#000" stroke-width="1.4" />
<ellipse cx="913.8" cy="223.6" rx="13.0" ry="7.2" transform="rotate(60 913.8 223.6)" fill="none" stroke="#000" stroke-width="1.1" />
<path d="M921.9,231.6 A11.0,6.1 60 0 1 910.9,212.5" fill="none" stroke="#000" stroke-width="0.8"/>
<path d="M919.0,241.0 L925.0,238.0 L929.0,246.0 L923.0,249.0Z" fill="#fff" stroke="#000" stroke-width="0.9" stroke-linejoin="round"/>
<ellipse cx="900.2" cy="232.2" rx="27.1" ry="15.2" transform="rotate(60 900.2 232.2)" fill="none" stroke="#000" stroke-width="2.1" />
<path d="M898.7,233.7 L914.0,225.0" fill="none" stroke="#000" stroke-width="1" stroke-linejoin="miter" />
<path d="M1054.5,299.3 L1087.4,280.3 A10.0,6.5 60 0 1 1097.4,297.7 L1064.5,316.7 A10.0,6.5 60 0 1 1054.5,299.3 Z" fill="#fff" stroke="#000" stroke-width="1.6" stroke-linejoin="round"/>
<path d="M1060.9,294.5 A11.0,7.2 60 0 1 1071.9,313.5" fill="none" stroke="#000" stroke-width="1.1"/>
<path d="M1067.9,290.5 A11.0,7.2 60 0 1 1078.9,309.5" fill="none" stroke="#000" stroke-width="1.1"/>
<path d="M1074.8,286.5 A11.0,7.2 60 0 1 1085.8,305.5" fill="none" stroke="#000" stroke-width="1.1"/>
<path d="M1081.7,282.5 A11.0,7.2 60 0 1 1092.7,301.5" fill="none" stroke="#000" stroke-width="1.1"/>
<path d="M1041.6,301.0 L1049.4,296.5 A15.0,9.0 60 0 1 1064.4,322.5 L1056.6,327.0 A15.0,9.0 60 0 1 1041.6,301.0 Z" fill="#fff" stroke="#000" stroke-width="1.6" stroke-linejoin="round"/>
<path d="M1045.6,307.9 L1053.4,303.4" fill="none" stroke="#000" stroke-width="0.8" stroke-linejoin="miter" />
<path d="M1053.1,320.9 L1060.9,316.4" fill="none" stroke="#000" stroke-width="0.8" stroke-linejoin="miter" />
<path d="M1031.0,310.6 L1043.1,303.6 A12.0,7.8 60 0 1 1055.1,324.4 L1043.0,331.4 A12.0,7.8 60 0 1 1031.0,310.6 Z" fill="#fff" stroke="#000" stroke-width="1.6" stroke-linejoin="round"/>
<path d="M1032.7,309.6 A12.0,7.8 60 0 1 1044.7,330.4" fill="none" stroke="#000" stroke-width="0.6"/>
<path d="M1034.5,308.6 A12.0,7.8 60 0 1 1046.5,329.4" fill="none" stroke="#000" stroke-width="0.6"/>
<path d="M1036.2,307.6 A12.0,7.8 60 0 1 1048.2,328.4" fill="none" stroke="#000" stroke-width="0.6"/>
<path d="M1037.9,306.6 A12.0,7.8 60 0 1 1049.9,327.4" fill="none" stroke="#000" stroke-width="0.6"/>
<path d="M1039.7,305.6 A12.0,7.8 60 0 1 1051.7,326.4" fill="none" stroke="#000" stroke-width="0.6"/>
<path d="M1041.4,304.6 A12.0,7.8 60 0 1 1053.4,325.4" fill="none" stroke="#000" stroke-width="0.6"/>
<ellipse cx="1037.0" cy="321.0" rx="12.0" ry="7.8" transform="rotate(60 1037.0 321.0)" fill="none" stroke="#000" stroke-width="1.5" />
<ellipse cx="1037.0" cy="321.0" rx="7.0" ry="4.5" transform="rotate(60 1037.0 321.0)" fill="none" stroke="#000" stroke-width="1.1" />
<path d="M861.7,389.7 L851,384 Q846,380 852,375 L964.2,323.6 Q986,314 1000.5,329 Q1010,345 1000.5,363.6 L898.8,409 Q892,411 889.7,403.5" fill="none" stroke="#000" stroke-width="3.4" stroke-linejoin="round" stroke-linecap="round"/>
<path d="M861.7,389.7 L851,384 Q846,380 852,375 L964.2,323.6 Q986,314 1000.5,329 Q1010,345 1000.5,363.6 L898.8,409 Q892,411 889.7,403.5" fill="none" stroke="#fff" stroke-width="1.2" stroke-linejoin="round" stroke-linecap="round"/>
<path d="M883.2,529.9 L890.2,525.9 A37.0,22.2 60 0 1 927.2,589.9 L920.2,593.9 A37.0,22.2 60 0 1 883.2,529.9 Z" fill="#fff" stroke="#000" stroke-width="1.9" stroke-linejoin="round"/>
<ellipse cx="901.7" cy="561.9" rx="37.0" ry="22.2" transform="rotate(60 901.7 561.9)" fill="none" stroke="#000" stroke-width="1.6" />
<ellipse cx="901.2" cy="562.0" rx="17.0" ry="9.4" transform="rotate(60 901.2 562.0)" fill="none" stroke="#000" stroke-width="1.6" />
<path d="M911.8,574.4 A16.0,8.8 60 0 1 895.8,546.6" fill="none" stroke="#000" stroke-width="0.8"/>
<path d="M886.2,535.1 A31.0,18.6 60 0 1 917.2,588.7" fill="none" stroke="#000" stroke-width="0.7"/>
<path d="M931.8,526.7 L936.1,524.2 A15.0,10.8 60 0 1 951.1,550.2 L946.8,552.7 A15.0,10.8 60 0 1 931.8,526.7 Z" fill="#fff" stroke="#000" stroke-width="1.6" stroke-linejoin="round"/><ellipse cx="939.3" cy="539.7" rx="15.0" ry="10.8" transform="rotate(60 939.3 539.7)" fill="none" stroke="#000" stroke-width="1.4" />
<ellipse cx="939.3" cy="539.7" rx="7.0" ry="5.0" transform="rotate(60 939.3 539.7)" fill="none" stroke="#000" stroke-width="1.2" />
<ellipse cx="939.3" cy="539.7" rx="5.0" ry="3.6" transform="rotate(60 939.3 539.7)" fill="none" stroke="#000" stroke-width="0.7" />
<circle cx="963" cy="526" r="10.3" fill="#000"/><ellipse cx="963" cy="522" rx="3.5" ry="3" fill="#fff"/>
<ellipse cx="980.0" cy="515.0" rx="8.0" ry="4.4" transform="rotate(60 980.0 515.0)" fill="none" stroke="#000" stroke-width="1.0" />
<ellipse cx="984.0" cy="513.0" rx="9.0" ry="5.0" transform="rotate(60 984.0 513.0)" fill="none" stroke="#000" stroke-width="1.0" />
<ellipse cx="988.0" cy="510.5" rx="10.5" ry="5.8" transform="rotate(60 988.0 510.5)" fill="none" stroke="#000" stroke-width="1.0" />
<ellipse cx="992.5" cy="508.0" rx="12.5" ry="6.9" transform="rotate(60 992.5 508.0)" fill="none" stroke="#000" stroke-width="1.0" />
<path d="M1034.3,459.4 L1043.8,453.9 A21.5,13.3 60 0 1 1065.3,491.1 L1055.8,496.6 A21.5,13.3 60 0 1 1034.3,459.4 Z" fill="#fff" stroke="#000" stroke-width="1.8" stroke-linejoin="round"/>
<ellipse cx="1045.1" cy="478.0" rx="21.5" ry="13.3" transform="rotate(60 1045.1 478.0)" fill="none" stroke="#000" stroke-width="1.1" />
<path d="M1056.6,471.3 L1066.1,465.8" fill="none" stroke="#000" stroke-width="0.8" stroke-linejoin="miter" />
<path d="M1041.5,458.5 L1051.0,453.0" fill="none" stroke="#000" stroke-width="0.8" stroke-linejoin="miter" />
<path d="M1030.0,465.2 L1039.5,459.7" fill="none" stroke="#000" stroke-width="0.8" stroke-linejoin="miter" />
<path d="M1018.2,475.6 L1037.3,464.6 A15.5,9.3 60 0 1 1052.8,491.4 L1033.8,502.4 A15.5,9.3 60 0 1 1018.2,475.6 Z" fill="#fff" stroke="#000" stroke-width="1.7" stroke-linejoin="round"/>
<path d="M1020.8,474.1 A15.5,9.3 60 0 1 1036.3,500.9" fill="none" stroke="#000" stroke-width="0.7"/>
<path d="M1023.0,472.8 A15.5,9.3 60 0 1 1038.5,499.7" fill="none" stroke="#000" stroke-width="0.7"/>
<path d="M1025.2,471.6 A15.5,9.3 60 0 1 1040.7,498.4" fill="none" stroke="#000" stroke-width="0.7"/>
<path d="M1027.3,470.3 A15.5,9.3 60 0 1 1042.8,497.2" fill="none" stroke="#000" stroke-width="0.7"/>
<path d="M1029.5,469.1 A15.5,9.3 60 0 1 1045.0,495.9" fill="none" stroke="#000" stroke-width="0.7"/>
<path d="M1031.7,467.8 A15.5,9.3 60 0 1 1047.2,494.7" fill="none" stroke="#000" stroke-width="0.7"/>
<path d="M1033.8,466.6 A15.5,9.3 60 0 1 1049.3,493.4" fill="none" stroke="#000" stroke-width="0.7"/>
<path d="M1036.0,465.3 A15.5,9.3 60 0 1 1051.5,492.2" fill="none" stroke="#000" stroke-width="0.7"/>
<ellipse cx="1026.0" cy="489.0" rx="15.5" ry="9.3" transform="rotate(60 1026.0 489.0)" fill="none" stroke="#000" stroke-width="1.2" />
<ellipse cx="1026.4" cy="488.8" rx="8.0" ry="4.8" transform="rotate(60 1026.4 488.8)" fill="none" stroke="#000" stroke-width="1.2" />
<ellipse cx="1013.6" cy="496.6" rx="18.9" ry="11.3" transform="rotate(60 1013.6 496.6)" fill="none" stroke="#000" stroke-width="2.2" />
<path d="M1070.1,455.7 L1077.9,451.2 A9.0,5.6 60 0 1 1086.9,466.8 L1079.1,471.3 A9.0,5.6 60 0 1 1070.1,455.7 Z" fill="#fff" stroke="#000" stroke-width="1.4" stroke-linejoin="round"/>
<path d="M1066.2,455.0 L1068.8,453.5 A11.5,7.1 60 0 1 1080.3,473.5 L1077.8,475.0 A11.5,7.1 60 0 1 1066.2,455.0 Z" fill="#fff" stroke="#000" stroke-width="1.5" stroke-linejoin="round"/><ellipse cx="1072.0" cy="465.0" rx="11.5" ry="7.1" transform="rotate(60 1072.0 465.0)" fill="none" stroke="#000" stroke-width="1" />
<ellipse cx="1072.0" cy="465.0" rx="7.0" ry="4.3" transform="rotate(60 1072.0 465.0)" fill="none" stroke="#000" stroke-width="0.8" />
<ellipse cx="1072.0" cy="465.0" rx="4.0" ry="2.5" transform="rotate(60 1072.0 465.0)" fill="none" stroke="#000" stroke-width="0.8" />
<ellipse cx="1098.5" cy="447.7" rx="12.7" ry="7.6" transform="rotate(60 1098.5 447.7)" fill="none" stroke="#000" stroke-width="2" />
<path d="M841.1,558.2 L850.6,552.7 A33.5,23.4 60 0 1 884.1,610.7 L874.6,616.2 A33.5,23.4 60 0 1 841.1,558.2 Z" fill="#fff" stroke="#000" stroke-width="1.9" stroke-linejoin="round"/>
<ellipse cx="857.9" cy="587.2" rx="33.5" ry="23.4" transform="rotate(60 857.9 587.2)" fill="#fff" stroke="#000" stroke-width="1.0" />
<ellipse cx="858.3" cy="587.0" rx="22.5" ry="13.9" transform="rotate(60 858.3 587.0)" fill="none" stroke="#000" stroke-width="1.7" />
<path d="M874.4,569.9 L884.0,564.4" fill="none" stroke="#000" stroke-width="0.7" stroke-linejoin="miter" />
<path d="M822.9,568.7 L832.5,563.2 A33.5,23.4 60 0 1 866.0,621.2 L856.4,626.7 A33.5,23.4 60 0 1 822.9,568.7 Z" fill="#fff" stroke="#000" stroke-width="1.9" stroke-linejoin="round"/>
<ellipse cx="839.7" cy="597.7" rx="33.5" ry="23.4" transform="rotate(60 839.7 597.7)" fill="#fff" stroke="#000" stroke-width="1.0" />
<ellipse cx="840.1" cy="597.5" rx="22.5" ry="13.9" transform="rotate(60 840.1 597.5)" fill="none" stroke="#000" stroke-width="1.7" />
<path d="M856.2,580.4 L865.8,574.9" fill="none" stroke="#000" stroke-width="0.7" stroke-linejoin="miter" />
<path d="M804.8,579.2 L814.3,573.7 A33.5,23.4 60 0 1 847.8,631.7 L838.2,637.2 A33.5,23.4 60 0 1 804.8,579.2 Z" fill="#fff" stroke="#000" stroke-width="1.9" stroke-linejoin="round"/>
<ellipse cx="821.5" cy="608.2" rx="33.5" ry="23.4" transform="rotate(60 821.5 608.2)" fill="#fff" stroke="#000" stroke-width="1.7" />
<ellipse cx="822.4" cy="607.7" rx="28.5" ry="19.4" transform="rotate(60 822.4 607.7)" fill="none" stroke="#000" stroke-width="0.7" />
<ellipse cx="821.9" cy="608.0" rx="22.5" ry="13.9" transform="rotate(60 821.9 608.0)" fill="none" stroke="#000" stroke-width="1.7" />
<path d="M838.1,590.9 L847.6,585.4" fill="none" stroke="#000" stroke-width="0.7" stroke-linejoin="miter" />
<path d="M884.1,669.7 L903.2,658.7 A25.6,16.1 60 0 1 928.8,703.1 L909.7,714.1 A25.6,16.1 60 0 1 884.1,669.7 Z" fill="#fff" stroke="#000" stroke-width="1.8" stroke-linejoin="round"/>
<ellipse cx="896.9" cy="691.9" rx="25.6" ry="16.1" transform="rotate(60 896.9 691.9)" fill="none" stroke="#000" stroke-width="1.2" />
<ellipse cx="896.5" cy="692.1" rx="22.0" ry="13.9" transform="rotate(60 896.5 692.1)" fill="none" stroke="#000" stroke-width="0.7" />
<ellipse cx="897.2" cy="691.5" rx="15.0" ry="9.3" transform="rotate(60 897.2 691.5)" fill="none" stroke="#000" stroke-width="1.5" />
<path d="M905.5,702.9 A14.0,8.7 60 0 1 891.5,678.6" fill="none" stroke="#000" stroke-width="0.6"/>
<path d="M906.8,702.1 A14.0,8.7 60 0 1 892.8,677.9" fill="none" stroke="#000" stroke-width="0.6"/>
<path d="M908.1,701.4 A14.0,8.7 60 0 1 894.1,677.1" fill="none" stroke="#000" stroke-width="0.6"/>
<path d="M909.4,700.6 A14.0,8.7 60 0 1 895.4,676.4" fill="none" stroke="#000" stroke-width="0.6"/>
<path d="M910.7,699.9 A14.0,8.7 60 0 1 896.7,675.6" fill="none" stroke="#000" stroke-width="0.6"/>
<ellipse cx="882.7" cy="684.0" rx="2.3" ry="1.8" transform="rotate(60 882.7 684.0)" fill="none" stroke="#000" stroke-width="0.9" />
<ellipse cx="910.2" cy="700.6" rx="2.3" ry="1.8" transform="rotate(60 910.2 700.6)" fill="none" stroke="#000" stroke-width="0.9" />
<path d="M896.2,662.7 A25.6,16.1 60 0 1 921.8,707.1" fill="none" stroke="#000" stroke-width="0.7"/>
<path d="M951,693 L949,776 Q946,786 952,788.5 L985,787 Q993,785 993,777 L993.5,696 Q991,690 990,683.6 Q996,672 996.8,655 Q998,625 985.4,613.3 Q972,607 962.5,611.7 Q944,618 940,632 Q940,660 946,680 Q948,687 951,693 Z" fill="#fff" stroke="#000" stroke-width="1.8" stroke-linejoin="round"/>
<ellipse cx="970.5" cy="645" rx="14" ry="21.5" transform="rotate(-18 970.5 645)" fill="#fff" stroke="#000" stroke-width="1.5"/>
<path d="M959,628 Q966,622 975,627" fill="none" stroke="#000" stroke-width="0.8"/>
<path d="M946,640 Q946,620 962,614" fill="none" stroke="#000" stroke-width="0.8"/>
<path d="M949.0,683.0 L958.0,673.0 L968.0,668.0 L978.0,664.0 L985.0,658.0" fill="none" stroke="#000" stroke-width="0.9" stroke-linejoin="miter" />
<path d="M958.0,673.0 L960.0,690.0 L951.0,693.0" fill="none" stroke="#000" stroke-width="0.9" stroke-linejoin="miter" />
<path d="M978.0,664.0 L976.0,677.0 L990.0,683.6" fill="none" stroke="#000" stroke-width="0.9" stroke-linejoin="miter" />
<path d="M952.0,698.0 L993.0,696.0" fill="none" stroke="#000" stroke-width="0.8" stroke-linejoin="miter" />
<path d="M953.0,712.0 L953.0,700.0" fill="none" stroke="#000" stroke-width="0.8" stroke-linejoin="miter" />
<path d="M950,775 Q950,770 960,770 L982,770 Q990,770 992,776" fill="none" stroke="#000" stroke-width="0.9"/>
<ellipse cx="987" cy="676" rx="3.2" ry="4" fill="none" stroke="#000" stroke-width="1.1"/>
<ellipse cx="960" cy="684" rx="2" ry="3" fill="none" stroke="#000" stroke-width="0.9"/>
<path d="M942,648 L936,651 Q934,655 938,657 L944,655 M944,664 L936,667 Q934,671 938,673 L945,671" fill="#fff" stroke="#000" stroke-width="1.1"/>
<path d="M1031.5,597.6 Q1038,592 1038,586 Q1039,578 1045.6,575.6 L1077,560 Q1086,557 1090,563 Q1095,570 1094.4,580 L1094.4,587 L1100.7,600.8 L1096.5,611 L1095,630.7 Q1092,640 1063,649.6 L1054,649 Z" fill="#fff" stroke="#000" stroke-width="1.8" stroke-linejoin="round"/>
<path d="M1092,590 L1100.7,600.8 L1096.5,611 L1092,606 Z" fill="#fff" stroke="#000" stroke-width="1"/>
<path d="M1059.8,574 Q1069,582 1069.2,592.9 Q1070,604 1069.2,611.8" fill="none" stroke="#000" stroke-width="0.8"/>
<ellipse cx="1049.9" cy="622.8" rx="29.3" ry="17.3" transform="rotate(60 1049.9 622.8)" fill="#fff" stroke="#000" stroke-width="1.9" />
<ellipse cx="1050.5" cy="622.3" rx="26.5" ry="15.6" transform="rotate(60 1050.5 622.3)" fill="none" stroke="#000" stroke-width="0.7" />
<path d="M1048.5,615.4 L1056.3,610.9 A7.0,5.2 60 0 1 1063.3,623.1 L1055.5,627.6 A7.0,5.2 60 0 1 1048.5,615.4 Z" fill="#fff" stroke="#000" stroke-width="1.3" stroke-linejoin="round"/><ellipse cx="1052.0" cy="621.5" rx="7.0" ry="5.2" transform="rotate(60 1052.0 621.5)" fill="none" stroke="#000" stroke-width="1" />
<path d="M1050.2,614.4 A7.0,5.2 60 0 1 1057.2,626.6" fill="none" stroke="#000" stroke-width="0.6"/>
<path d="M1052.0,613.4 A7.0,5.2 60 0 1 1059.0,625.6" fill="none" stroke="#000" stroke-width="0.6"/>
<path d="M1053.7,612.4 A7.0,5.2 60 0 1 1060.7,624.6" fill="none" stroke="#000" stroke-width="0.6"/>
<path d="M1055.4,611.4 A7.0,5.2 60 0 1 1062.4,623.6" fill="none" stroke="#000" stroke-width="0.6"/>
<ellipse cx="1052.0" cy="621.5" rx="4.0" ry="3.0" transform="rotate(60 1052.0 621.5)" fill="none" stroke="#000" stroke-width="0.8" />
<ellipse cx="1031.5" cy="633.8" rx="25.6" ry="16.1" transform="rotate(60 1031.5 633.8)" fill="none" stroke="#000" stroke-width="2" />
<path d="M1078.7,715.7 Q1088,712 1094.5,707 Q1102,699 1110.2,697.3 L1118,689.7 L1120,736 L1110.2,738 Q1100,742 1093,747.2 L1078.7,768.4 Z" fill="#fff" stroke="none"/>
<path d="M1078.7,715.7 Q1088,712 1094.5,707 Q1102,699 1110.2,697.3 L1118,689.7 M1110.2,697.3 L1118,703 M1078.7,768.4 L1093,747.2 Q1100,742 1110.2,738 L1118,735.5" fill="none" stroke="#000" stroke-width="1.5"/>
<path d="M1094.5,707 Q1103,722 1093,747.2 M1100,710.8 Q1114,722 1110.2,738" fill="none" stroke="#000" stroke-width="0.8"/>
<path d="M1028,731.4 Q1026,713 1036,709 Q1046,705 1052,707" fill="none" stroke="#000" stroke-width="1.2"/>
<path d="M1018.8,736.7 L1050.3,718.5 A28.5,19.1 60 0 1 1078.8,767.9 L1047.2,786.1 A28.5,19.1 60 0 1 1018.8,736.7 Z" fill="#fff" stroke="#000" stroke-width="1.8" stroke-linejoin="round"/>
<ellipse cx="1033.0" cy="761.4" rx="28.5" ry="19.1" transform="rotate(60 1033.0 761.4)" fill="none" stroke="#000" stroke-width="1.5" />
<ellipse cx="1034.3" cy="760.6" rx="25.0" ry="16.8" transform="rotate(60 1034.3 760.6)" fill="none" stroke="#000" stroke-width="1.1" />
<ellipse cx="1035.2" cy="760.1" rx="23.5" ry="15.7" transform="rotate(60 1035.2 760.1)" fill="none" stroke="#000" stroke-width="0.6" />
<path d="M1028.3,731.2 A28.5,19.1 60 0 1 1056.8,780.6" fill="none" stroke="#000" stroke-width="0.8"/>
<path d="M1071,728.3 Q1080,738 1083.5,751.9 L1079,752 Q1076,738 1068,729 Z" fill="#fff" stroke="#000" stroke-width="1.1"/>
<path d="M1071.0,731.0 L1075.5,729.5" fill="none" stroke="#000" stroke-width="0.8" stroke-linejoin="miter" />
<path d="M1073.0,734.6 L1077.3,733.1" fill="none" stroke="#000" stroke-width="0.8" stroke-linejoin="miter" />
<path d="M1075.0,738.2 L1079.1,736.7" fill="none" stroke="#000" stroke-width="0.8" stroke-linejoin="miter" />
<path d="M1077.0,741.8 L1080.9,740.3" fill="none" stroke="#000" stroke-width="0.8" stroke-linejoin="miter" />
<path d="M1079.0,745.4 L1082.7,743.9" fill="none" stroke="#000" stroke-width="0.8" stroke-linejoin="miter" />
<path d="M1081.0,749.0 L1084.5,747.5" fill="none" stroke="#000" stroke-width="0.8" stroke-linejoin="miter" />
<ellipse cx="1056" cy="710.5" rx="5" ry="2.4" transform="rotate(-25 1056 710.5)" fill="#fff" stroke="#000" stroke-width="1.1"/>
<text class="l" x="256.4" y="84.3">831/1</text>
<text class="l" x="310.4" y="100.0">36/1</text>
<text class="l" x="268.4" y="121.7">37/1</text>
<text class="l" x="230.4" y="142.8">38/1</text>
<text class="l" x="175.4" y="147.0">45/1</text>
<text class="l" x="78.4" y="209.0">40</text>
<text class="l" x="356.4" y="272.0">38</text>
<text class="l" x="252.4" y="317.4">45</text>
<text class="l" x="112.4" y="399.0">94</text>
<text class="l" x="98.4" y="542.7">94/7</text>
<text class="l" x="113.1" y="610.0">94</text>
<text class="l" x="678.9" y="74.0">28</text>
<text class="l" x="649.4" y="90.9">50</text>
<text class="l" x="615.4" y="110.8">31</text>
<text class="l" x="598.4" y="120.7">32</text>
<text class="l" x="581.4" y="130.0">34</text>
<text class="l" x="554.4" y="145.4">43</text>
<text class="l" x="518.4" y="179.0">36</text>
<text class="l" x="483.4" y="198.8">37</text>
<text class="l" x="425.9" y="192.6">831</text>
<text class="l" x="439.4" y="224.3">51</text>
<text class="l" x="414.4" y="238.7">51</text>
<text class="l" x="759.4" y="251.4">47</text>
<text class="l" x="582.4" y="309.7">811</text>
<text class="l" x="658.4" y="312.6">2</text>
<text class="l" x="525.4" y="385.4">815</text>
<text class="l" x="490.4" y="410.0">3</text>
<text class="l" x="435.4" y="440.0">5</text>
<text class="l" x="401.9" y="460.6">6</text>
<text class="l" x="763.9" y="427.2">78</text>
<text class="l" x="763.9" y="463.6">77</text>
<text class="l" x="805.4" y="460.3">817</text>
<text class="l" x="763.9" y="495.0">55</text>
<text class="l" x="763.9" y="510.8">54</text>
<text class="l" x="763.9" y="532.6">53</text>
<text class="l" x="822.4" y="530.8">49</text>
<text class="l" x="748.4" y="578.0">64</text>
<text class="l" x="748.4" y="589.6">65</text>
<text class="l" x="666.4" y="593.3">99</text>
<text class="l" x="622.9" y="621.0">1</text>
<text class="l" x="552.1" y="659.0">95</text>
<text class="l" x="529.4" y="669.6">97</text>
<text class="l" x="792.9" y="693.3">72</text>
<text class="l" x="818.4" y="712.0">71</text>
<text class="l" x="688.4" y="786.0">96</text>
<text class="l" x="906.4" y="123.6">813</text>
<text class="l" x="949.0" y="143.2">44</text>
<text class="l" x="916.4" y="162.4">82</text>
<text class="l" x="877.4" y="184.6">44</text>
<text class="l" x="843.4" y="204.2">8</text>
<text class="l" x="1045.4" y="272.5">652</text>
<text class="l" x="985.9" y="307.1">62</text>
<text class="l" x="984.4" y="419.0">818</text>
<text class="l" x="1087.4" y="404.0">61</text>
<text class="l" x="1064.4" y="417.3">60</text>
<text class="l" x="1039.9" y="432.0">56</text>
<text class="l" x="1001.4" y="453.3">66</text>
<text class="l" x="975.4" y="468.0">69</text>
<text class="l" x="952.4" y="481.6">68</text>
<text class="l" x="928.0" y="495.4">57</text>
<text class="l" x="903.4" y="509.6">70</text>
<text class="l" x="1035.4" y="547.8">705</text>
<text class="l" x="965.4" y="598.0">653</text>
<text class="l" x="885.4" y="646.6">832</text>
<text class="l" x="1035.4" y="686.0">899</text>
<text class="l" x="1066.4" y="704.0">859</text>
</svg></body></html>
